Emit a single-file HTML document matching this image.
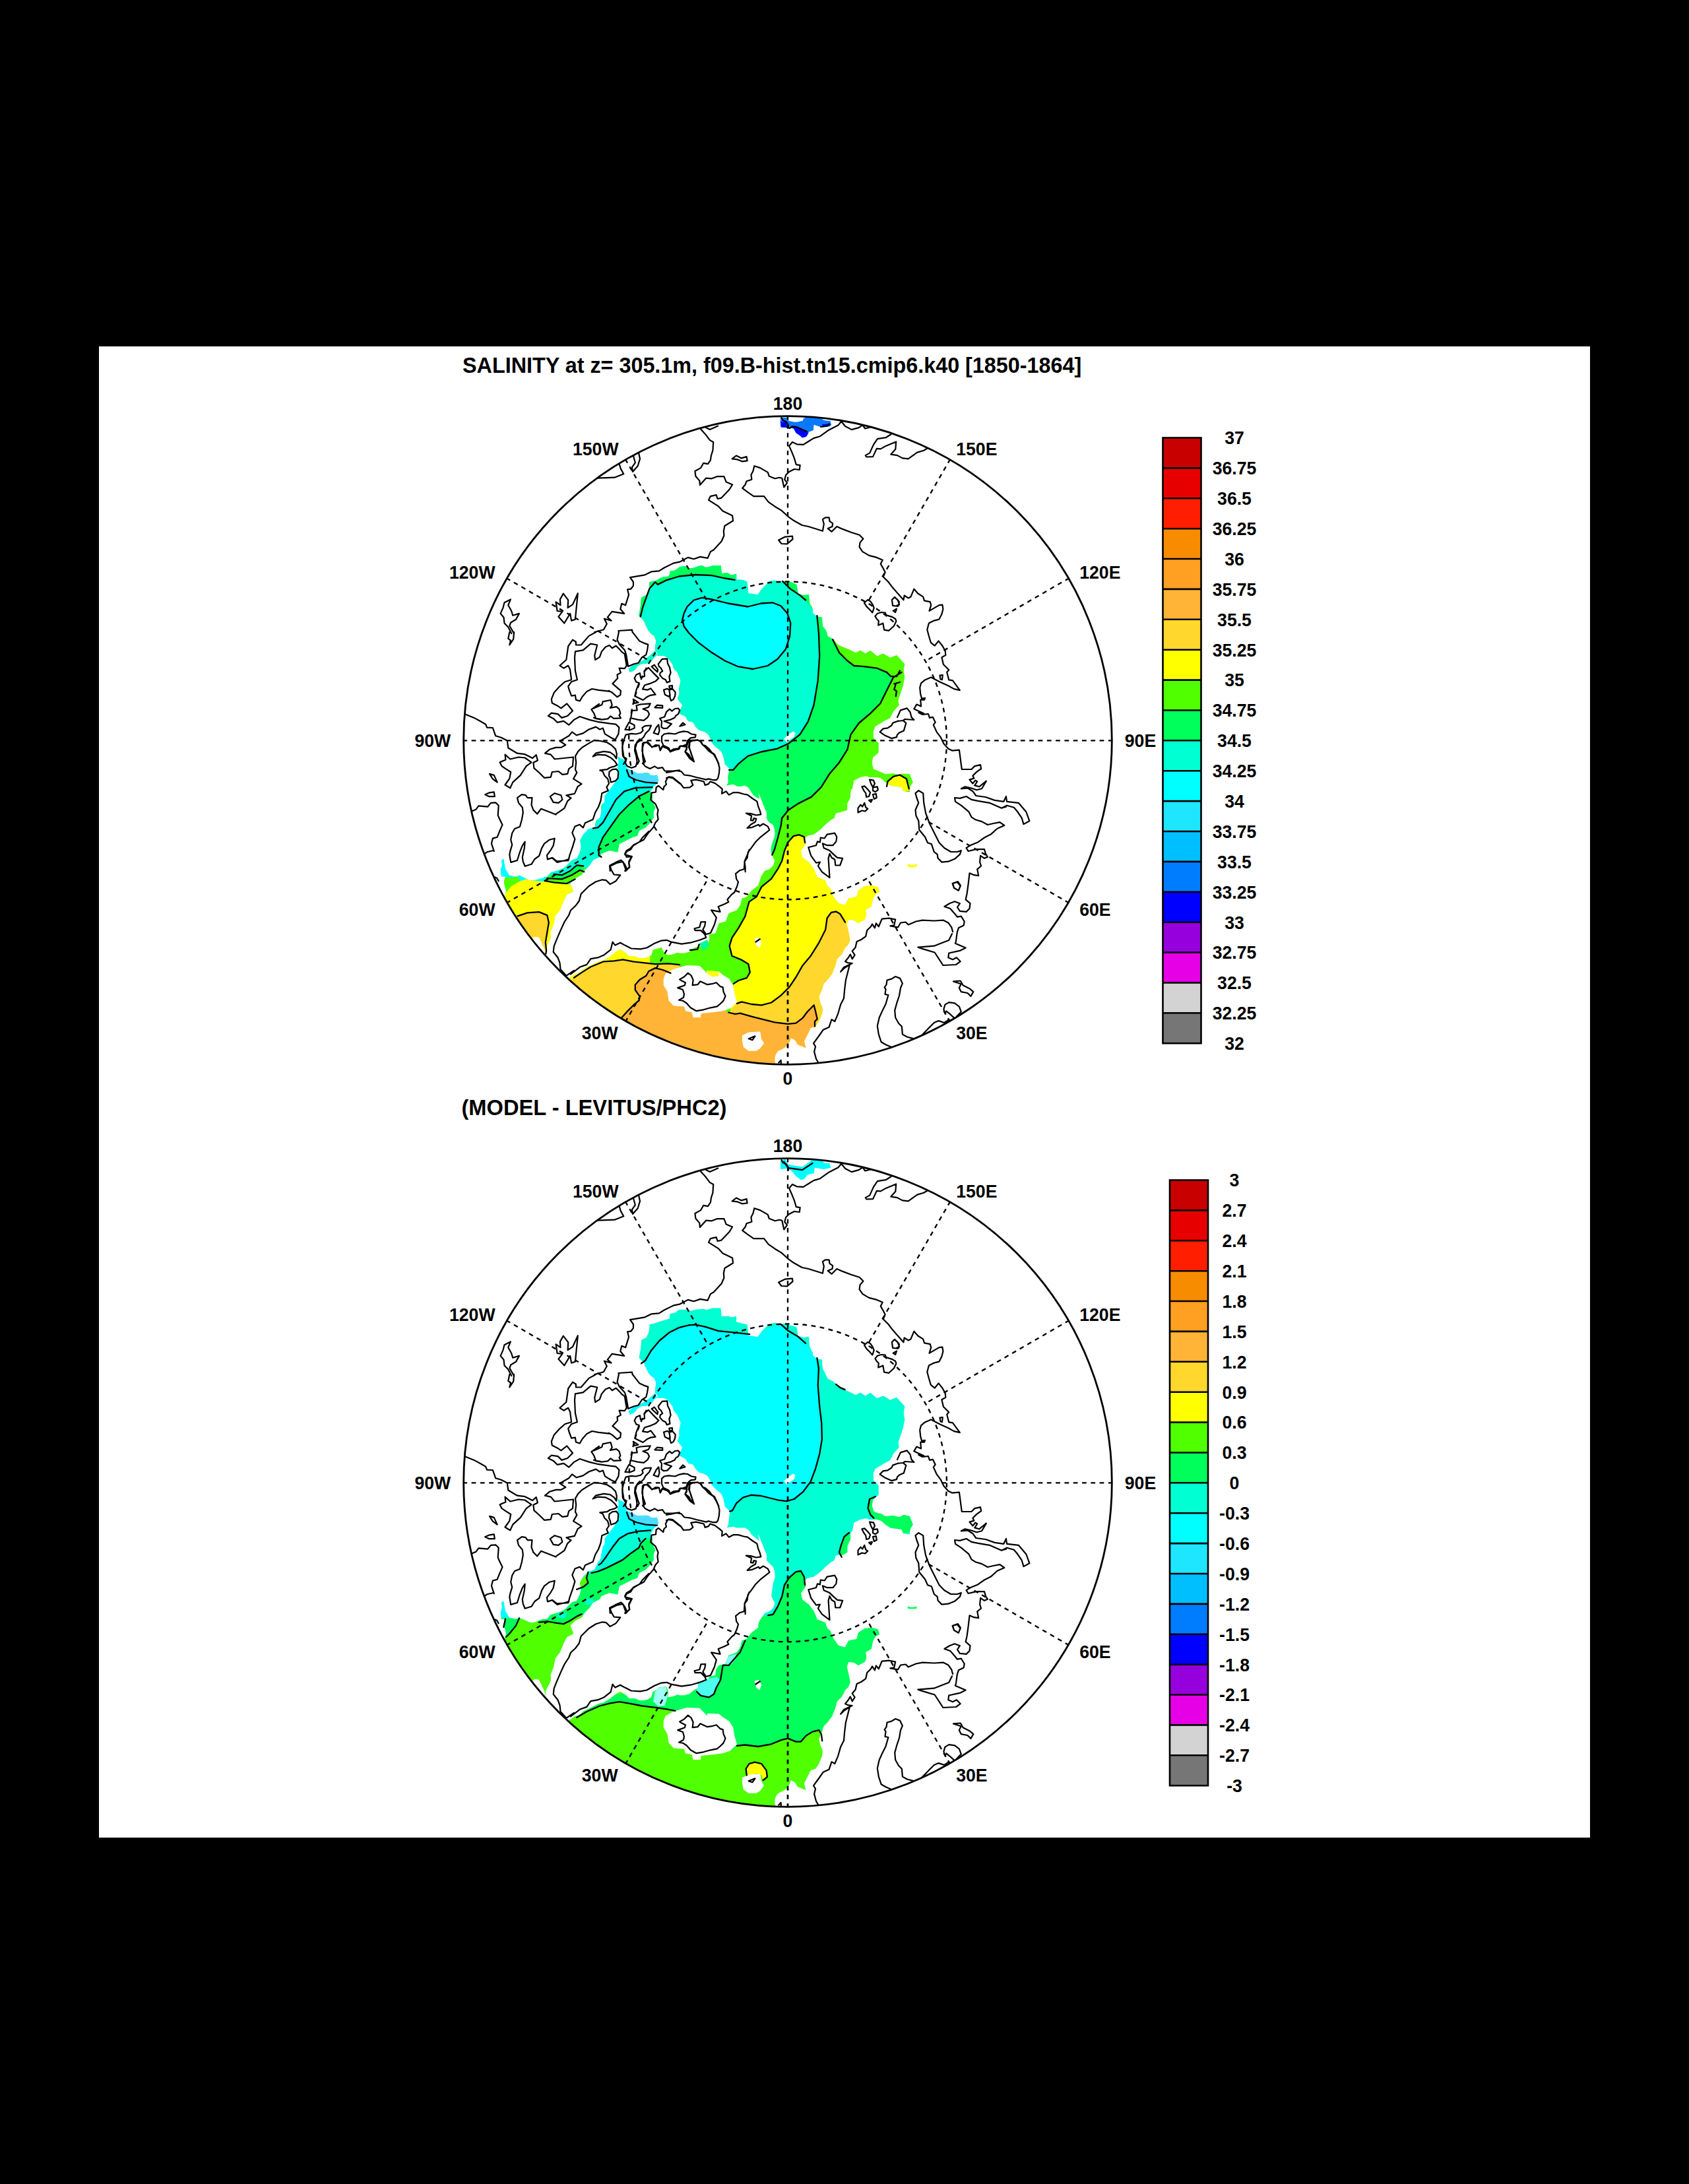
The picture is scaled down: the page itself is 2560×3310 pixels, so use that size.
<!DOCTYPE html>
<html><head><meta charset="utf-8"><title>SALINITY at z= 305.1m</title>
<style>
html,body{margin:0;padding:0;background:#000;}
body{width:2560px;height:3310px;overflow:hidden;}
svg{display:block;}
text{font-family:"Liberation Sans",sans-serif;font-weight:bold;fill:#000;}
.lb{font-size:27.3px;}
.tt{font-size:32.33px;}
.t2{font-size:32.65px;}
.cb{stroke:#000;stroke-width:2.6;}
.gd{fill:none;stroke:#000;stroke-width:2.35;stroke-dasharray:6.8 6.5;}
.gm{stroke-dashoffset:1.7;}
.co{fill:none;stroke:#000;stroke-width:2.2;stroke-linejoin:round;stroke-linecap:round;}
.cn{fill:none;stroke:#000;stroke-width:2.3;stroke-linejoin:round;stroke-linecap:round;}
.cd{fill:none;stroke:#000;stroke-width:2.6;stroke-dasharray:14 8;}
.bd{fill:none;stroke:#000;stroke-width:2.8;}
</style></head><body>
<svg width="2560" height="3310" viewBox="0 0 2560 3310">
<rect x="0" y="0" width="2560" height="3310" fill="#000"/>
<rect x="150" y="525" width="2260" height="2260" fill="#fff"/>
<defs>
<clipPath id="c1"><circle cx="1194" cy="1122" r="491"/></clipPath>
<clipPath id="c2"><circle cx="1194" cy="2247" r="491"/></clipPath>

<g id="coast" class="co">
<path d="M905.2 724.7L931.5 723.7L945.2 718.3L940.7 710.1L938.4 702.2 M959.9 690.5L962.8 701.3L957.9 708.1L958.9 714.9L966.7 706.2L970 695.4L968.1 686.6 M842.6 912.3L849.5 917.2L848.9 908.4L853.8 899.6L861.2 909.3L860.6 921.1L868 916.2L875.8 899.2L871.9 938.7L866.1 940.6L864.1 929.9L855.3 944.5L846.5 934.7L852.4 926.9L844.6 926Z M775.2 960.1L770.3 950.4L764.5 944.5L763.5 935.7L758.6 929.9L762.5 921.1L764.5 913.3L773.9 908.4L770.3 917.2L775.2 926L777.2 932.8L786.9 929.9L782.1 938.7L774.2 943.5L772.3 948.4L779.1 960.1 M1030 851.7L1020.4 853.7L1006.7 860.5L998.9 865.4L987.2 866.4L977.4 871.3L955 875.2L959.9 882L959.9 887.9L956 892.7L951.1 893.3L953 901.5L948.1 917.2L942.3 914.8L940.3 923L946.2 929.9L927.6 926.9L920.8 935.7L926.6 940.6L915.9 937.7L919.8 945.5L914.9 954.3L901.2 958 M1062.2 650.5L1070.1 659.3L1075.9 667.1L1081.2 670L1080.4 682.7L1077.9 690.5L1076.9 697.4L1073 703.2L1066.1 701.9L1062.2 709.1L1053.4 714L1054.4 721.8L1060.3 728.6L1060.9 735.1L1070.1 724.7L1078.8 725.3L1086.7 722.2L1097.4 722.2L1100.7 730.6L1110.1 734.5L1105.2 742.3L1093.5 754.6L1087.6 756L1085.7 750.1L1076.9 752.1L1074 757.9L1088.6 767.1L1095.5 774.5L1110.1 781.4L1111.1 789.2L1098.4 797L1096.8 804.8L1097.4 811.7L1093.5 820.5L1081.8 833.2L1076.9 836.1L1072.6 845.9L1061.3 843.9L1051.5 847.2L1042.7 844.9L1030 851.7 M1070.1 648.1L1075.9 650.9L1088.2 645.6 M1109.7 695.4L1116 690.5L1123.8 694.4L1131.6 692.1L1132.6 698.3L1124.8 699.3L1117.9 696.4Z M1184.4 632.9L1186.3 636.8L1192.2 639.7L1194.5 644L1195.1 648.5 M1275.2 638.7L1270.3 644.6L1256.6 651.4L1243 661.2L1233.2 664.1L1225.4 669L1217.6 673.9L1207.8 673.3L1201 670L1196.1 675.9L1200 684.7L1203.9 694.4L1206.8 704.2L1212.7 705.2L1211.7 712L1203.9 711L1196.1 714.9L1191.2 719.8L1189.2 726.7L1193.1 731.6L1188.3 738.4L1185.3 724.7L1181.4 723.7L1174.6 725.3L1165.8 721.8L1163.8 715.9L1152.1 709.1L1143.3 706.2L1141.4 714L1138.4 719.8L1139.4 726.7L1131.6 729.2L1129.6 734.5L1125.3 739.8L1133.6 746.2L1142.3 752.1L1158 752.1L1164.8 760.9L1174.6 767.7L1184.4 773.6L1195.1 783.3L1201.9 788.2L1215.6 796L1225.4 798L1246.9 804.8L1248.8 794.1L1246.9 787.2L1250.8 784.3L1256.6 784.3L1257.6 790.2L1262.1 793.1L1261.5 798L1254.7 800.9L1260.6 805.8L1268.4 798L1277.2 801.9L1289.9 806.8L1302.6 810.7L1308.4 816.5L1303.5 822.4L1302.6 829.2L1307.4 836.1L1317.2 841.9L1328.9 844.9L1337.7 848.8L1334.8 854.6L1338.7 861.5L1341.6 867.3L1338.7 874.2L1346.5 882L1352.4 889.8L1360 898.6 M1180.1 818.5L1190.2 813.6L1201 812.6L1201.5 817.1L1193.1 824.4L1184.4 824Z M1275.2 638.7L1281.1 646L1290.8 651.1L1301.6 648.1L1307.1 644.6 M1308.4 645.6L1311.3 649.5L1319.2 647.5L1323.1 646.6 M1350.4 658.3L1342.6 663.2L1329.9 665.1L1324 673.9L1318.2 686.6L1311.7 690.1L1313.3 692.5L1323.1 692.1L1328.9 679.8L1334.8 680.4L1342.6 675.9L1358.2 669.4L1357.3 680.8L1350.4 688.6L1360 690.1 M1360 690.1L1367.8 694.4L1376.6 695.4L1390.3 685.6L1400.1 682.7L1405.9 679.2 M903.2 958L892.5 963.9L880.7 977.5L872.9 977.5L872.9 972.7L868 969.7L861.2 979.5L858.3 1000L848.5 1008.8L854.4 1012.7L861.2 1008.8L864.1 1014.7L866.1 1030.3L856.3 1033.2L848.5 1040.1L839.7 1049.8L835.8 1059.6L836.8 1065.5L844.6 1069.4L850.4 1073.3L859.2 1066.4L868 1077.2L860.2 1085L851.4 1087.9L845.6 1082.1L835.8 1080.7L830.9 1085L838.7 1088.9L844.6 1094.8L854.4 1092.8L862.2 1098.7L870 1090.9L878.8 1086L893.4 1090.9L905.2 1093.8L924.7 1096.7L933.5 1097.7L938.4 1102.6L937.4 1112.4L932.5 1121.1L926.6 1118.2L916.9 1112.4L913.9 1103.6L909.1 1105.5L903.2 1101.6L892.5 1105.5L883.7 1111.4L873.9 1114.3L867.1 1109.4L862.2 1115.3L848.5 1123.1L857.3 1129L850.4 1132.9L842.6 1132.9L832.9 1135.8L826 1141.7L834.8 1143.6L840.7 1150.5L869 1147.5L868 1161.2L862.2 1165.1L860.2 1172.9L852.4 1173.9L846.5 1169L836.8 1170L834.8 1177.8L825 1178.8L817.2 1171L809.4 1164.1L808.4 1155.7L814.9 1152.4L812.7 1144L807.1 1149.1L795.7 1143.2L784 1141.7L770.3 1133.5L768.8 1122.5L759.6 1117.8L751.2 1115.3L746.9 1103L738.1 1102.6L736.1 1097.7L729.3 1093.8L718.6 1087.9L703.9 1082.1 M924.7 1047.9L907.1 1045.9L897.3 1044L889.5 1047.9L882.7 1055.7L878.8 1062.5L872.9 1060.6L871.9 1053.7L866.1 1054.7L862.2 1044L861.2 1040.1L866.1 1033.2L874.9 1030.3L871.9 1016.6L871 997.1L871.9 987.3L883.7 985.4L895.4 975.6L905.2 977.5L901.2 993.2L902.2 1000 M908.1 1067L896.4 1075.2L900.3 1081.1L903.2 1088.9L910 1089.9 M757.6 1155.3L766.4 1151.4L765.5 1143.6L773.3 1150.5L786 1147.5L795.7 1148.5L805.5 1155.3L797.7 1161.2L788.9 1174.9L777.2 1185.6L773.3 1194.4L765.5 1189.5L772.3 1179.8L774.2 1170L766.4 1165.1L760.6 1161.2Z M742 1172.9L748.8 1174.9L753.7 1185.6L746.9 1180.7Z M735.2 1204.2L742 1201.3L748.8 1200.3L749.8 1207.1L741 1207.1Z M715.6 1229.2L721.5 1226.7L725.4 1221.4L739.1 1222.7L744 1216.9L751.2 1216.3L755.7 1220.8L754.7 1235.4L756.7 1240.3L761.5 1250.1L757.6 1258.9L753.7 1268.7L746.9 1270.6L744.9 1278.4L748.8 1290.1 M833.8 1207.1L840.7 1202.2L850.4 1205.2L852.4 1212L846.5 1216.9L838.7 1215.9Z M772.3 958L770.3 967.8L773.9 970.7L772.3 977.5L778.2 968.7L779.1 958 M937.9 958L935.5 969.8L939.1 976.9L946.8 985.2L949.1 992.3L952.1 1010.1L960.4 1006.5L967.5 1004.8L972.8 996.5L979.3 992.3L981.1 985.2L982.3 976.9L975.8 974.6L969.3 971.6L961.6 961.6L958.6 958 M902.2 1000L908.9 995.9L911.8 987.6L917.8 980.5L923.7 978.1L927.8 982.3L933.7 978.7L939.1 984.1L942.6 988.2L946.8 991.2L949.7 1008.9L946.8 1013.1L938.5 1012.7L940.9 1019.6L935.5 1022.5L936.1 1027.9L928.4 1036.2L940.9 1046.8L940.3 1053.3L935.5 1056.3L927.2 1049.2L922.5 1046.8L924.6 1047.9 M961.6 1027.9L964.5 1022.5L969.9 1020.2L971 1026.7L977 1024.9L976.4 1017.2L982.9 1011.9L990 1019.6L998.3 1027.9L993.5 1032.6L986.4 1035.6L977 1038.5L974 1044.4L981.7 1045.6L986.4 1043.3L993.5 1052.7L985.3 1053.9L980.5 1056.3L974.6 1061L962.2 1055.1L964.5 1045.6L968.7 1035L964.5 1033.8Z M987.6 1010.1L991.8 1007.7L997.1 1014.8L996.5 1018.4L991.2 1013.7Z M997.7 1006.5L1003.6 998.9L1011.3 998.3L1011.9 1005.4L1014.9 1011.3L1016.6 1019.6L1014.3 1025.5L1015.5 1032.6L1010.7 1034.4L1008.9 1030.2L1004.2 1027.9L1000.1 1023.1L1000.7 1019.6L1004.2 1017.2L1001.8 1012.5L998.9 1010.1Z M1006 1045.6L1011.3 1043.8L1014.3 1045.6L1015.5 1052.7L1013.7 1055.7L1007.8 1052.7Z M1014.3 1045.6L1019.6 1044.4L1023.7 1049.2L1023.1 1055.1L1020.8 1059.8L1017.2 1062.2L1015.5 1057.5L1015.5 1052.7Z M1014.3 1039.7L1019 1039.1L1019 1043.3L1014.9 1043.3Z M959.8 1059.8L967.5 1064.6L961.6 1065.8Z M958 1077L965.7 1076.4L964.5 1069.3L971 1067.5L985.8 1066.3L982.9 1071.7L974.6 1074.6L981.7 1077.6L984.1 1082.3L981.7 1087.1L975.8 1091.8L966.3 1090.6L956.2 1088.3Z M992.4 1072.3L995.9 1068.7L1004.2 1069.3L1004.2 1072.9Z M1000.1 1088.8L1007.2 1086.5L1010.1 1078.8L1014.9 1074.6L1018.4 1077.6L1023.1 1074L1027.9 1073.5L1030.3 1076.4L1027.9 1082.3L1024.3 1084.7L1022.6 1087.7L1016.6 1090.6L1006.6 1093L1017.8 1097.1L1011.3 1103.6L1006 1104.2L1002.4 1101.9L1003 1093Z M1030.3 1100.7L1035 1095.4L1038.5 1098.3Z M900 1073.5L912.4 1068.1L913.6 1063.4L925.5 1061L927.8 1068.7L924.9 1072.9L934.3 1071.1L938.5 1074.6L940.3 1081.1L938.5 1084.1L940.9 1088.3L930.2 1088.8L925.5 1085.3L921.3 1089.4L911.8 1090.6L902.4 1088.8L900 1087.7 M947.4 1106L953.3 1094.8L961.6 1098.9L961.6 1103.6L955.7 1106Z M945 1158L948.5 1152.2L943.8 1145.1L943.2 1132.1L945.6 1121.4L948.5 1113.7L956.8 1111.9L963.9 1112.5L971 1110.8L974.6 1107.2L973.4 1103.1L977.6 1100.1L987 1099.5L984.1 1106L978.2 1111.9L975.8 1116.7L969.9 1122.6L965.1 1126.1L962.8 1134.4L964.5 1140.4L966.3 1147.5L968.7 1153.4L966.3 1158 M990.6 1110.8L994.7 1102.5L998.3 1098.3L999.5 1107.2L997.7 1113.1Z M1003 1116.1L1006.6 1112.5L1013.7 1111.3L1023.1 1112.5L1030.3 1109.6L1036.2 1108.4L1042.1 1109L1048 1112.5L1054.5 1113.7L1053.9 1117.3L1046.8 1118.4L1042.1 1122.6L1040.3 1128.5L1035 1130.3L1030.3 1130.9L1027.9 1135L1016 1139.2L1013.7 1133.8L1005.4 1129.7L1003 1123.8Z M975.8 1158L974 1145.1L974 1133.3L975.8 1126.1L981.7 1124.4L985.3 1128.5L988.2 1132.7L993.5 1129.1L998.9 1129.7L1000.7 1137.4L1004.2 1130.9L1013.7 1134.4 M1040.3 1130.3L1040.9 1135.6L1038.5 1139.2L1043.9 1143.3L1046.8 1148.6L1051.6 1153.4L1049.2 1146.3L1046.8 1139.2L1043.9 1132.1L1045.1 1125L1050.4 1122L1057.5 1121.4L1061.6 1123.8L1064.6 1128.5L1069.3 1130.3L1075.3 1135.6L1078.8 1140.4L1082.9 1143.3L1085.9 1149.8L1089.5 1158 M841.8 1234.3L855.5 1224.8L860.2 1214.1L865.5 1209.4L858.4 1205.3L870.9 1202.9L875.6 1192.2L881.5 1188.1L869.1 1180.4L874.4 1170.9L872 1166.2L873.2 1155.5L872 1146.1L876.2 1138.9L882.1 1133L891.6 1127.1L901 1121.8L910.5 1123L920 1125.3L927.1 1129.5L933 1135.4L934.8 1142.5L934.2 1149.6L930.7 1144.3L924.7 1140.1L915.3 1138.9L903.4 1141.3L898.7 1146.6L905.8 1143.7L917.6 1144.3L925.9 1148.4L931.8 1153.7L935.4 1159.1L931.8 1161.4L924.7 1163.2L920 1166.2L909.3 1167.4L913.5 1169.1L916.4 1175.7L921.2 1180.4L923 1187.5L919.4 1192.8L921.8 1198.2L912.3 1202.3L910.5 1213.5L907 1223L902.2 1231.3L898.7 1242L886.8 1247.3L883.9 1254.4L878.5 1249.7L871.4 1252.6L867.3 1262.1L871.4 1271.6L867.9 1283.4L863.7 1295.3L861.4 1304.1L844.2 1305.3L837.1 1300L830 1302.4 M923.5 1169.7L928.3 1166.2L934.2 1165.6L937.2 1169.7L936.6 1179.2L933 1183.4L925.9 1185.7L924.7 1179.2L923 1175.7Z M943.1 1120L943.7 1135.4L945.5 1147.2L949.6 1149.6L947.8 1156.7L950.8 1161.4L957.3 1163.8L963.8 1161.4L965.6 1154.3L964.4 1146.1L962 1137.8L962.6 1129.5L966.2 1123.6L969.7 1120 M1030 1134.2L1020.6 1135.4L1015.9 1138.4L1011.2 1134.2L1003.5 1131.2L1000.5 1136.6L998.7 1129.5L993.4 1131.2L987.5 1131.8L980.4 1125.3L975.6 1125.3L973.9 1127.1L973.3 1137.8L975.1 1145.5L978 1154.3L973.9 1156.7L978 1161.4L985.1 1165L992.2 1161.4L997 1164.4L1004.1 1163.2L1007.6 1168.5L1019.5 1168.5L1030 1167.4 M1030 1187.5L1019.5 1179.2L1012.4 1178L1008.8 1184.5L1010 1188.7L1006.4 1192.2L1005.3 1197L998.1 1191L994.6 1193.4L994 1200.5L987.5 1201.7L986.3 1212.4L993.4 1218.3L997.6 1227.8L996.4 1233.7L997.6 1242L993.4 1246.7L990.4 1253.8L981.6 1263.9L975.6 1272.8L960.3 1280.4L955.5 1285.8L949.6 1289.3L947.2 1293.5L949.6 1298.8L957.3 1298.2L953.1 1305.9L954.3 1314.2L948.4 1320 M924.7 1320L924.1 1311.8L933 1307.1L941.3 1303.5L946.6 1309.5L949.6 1315.4L947.2 1320 M842.6 1234.5L820.2 1225.7L814.3 1233.5L808.4 1227.6L805.5 1219.8L806.5 1209.1L799.6 1209.1L796.7 1205.2L790.9 1204.2L784 1209.1L786 1216.9L791.8 1223.7L792.8 1231.5L790.9 1242.3L787.9 1253L780.1 1256L776.2 1262.8L774.2 1272.6L776.2 1280.4L773.3 1290.1 M1044.3 1122.4L1050.3 1121.8L1057.4 1121.8L1062.7 1124.1L1065.1 1128.9L1069.2 1132.4L1074.5 1138.4L1081.6 1143.1L1085.8 1150.2L1088.7 1156.7L1090.5 1163.8L1089.9 1172.1L1088.2 1179.2L1085.8 1182.2L1081 1182.2L1073.9 1180.4L1070.4 1181.6L1055 1178L1046.7 1175.7L1037.2 1174.5L1032.5 1169.1L1025.4 1168L1017.1 1169.7L1010 1170.9 M1044.3 1122.4L1042 1127.1L1040.8 1131.8L1031.3 1130.7L1028.9 1135.4L1021.8 1136.6L1015.9 1139.5L1013.6 1135.4L1010 1133 M1041.4 1132.4L1038.4 1139.5L1045.5 1149.6L1052 1154.3L1047.9 1143.7L1044.9 1133L1045.5 1125.3 M1010 1179.2L1013.6 1177.4L1019.5 1178L1025.4 1182.8L1031.3 1187.5L1036.1 1194L1045.5 1193.4L1050.3 1189.9L1047.3 1182.8L1055 1181.6L1066.8 1184.5L1068.6 1189.9L1073.9 1188.1L1076.3 1184.5L1083.4 1186.9L1090.5 1192.2L1094.7 1195.8L1094.1 1202.9L1100.6 1199.3L1104.7 1204.7L1111.8 1201.1L1118.9 1201.1L1127.2 1203.5L1133.1 1204.7L1140.3 1210L1147.4 1214.7L1149.1 1221.8L1151.5 1227.8L1153.3 1234.3L1146.2 1235.5L1137.9 1233.1L1130.8 1232.5L1139.1 1236.6L1137.9 1243.1L1141.4 1243.7L1142.6 1240.2L1146.2 1240.8L1145 1245.5L1137.9 1249.7L1132.6 1255L1140.3 1253.8L1149.7 1249.7L1151.5 1252L1156.8 1248.5L1163.9 1252.6L1166.3 1258L1160.4 1262.7L1152.1 1269.2L1145 1276.3L1139.1 1284.6L1133.7 1291.7L1132.6 1300L1128.4 1305.9L1129.6 1314.2L1129.6 1321.3 M1360 898.6L1369.4 909.3L1370.7 902.5L1376.6 906.4L1380.5 904.4L1385.4 892.7L1391.3 899.5L1399.1 904.4L1401 910.3L1409.8 912.2L1411.2 917.1L1408.5 925.9L1423.5 917.1L1428.4 916.7L1429.4 923L1427.4 930.8L1423.5 938.6L1415.7 940.6L1407.9 944.5L1405.3 954.2L1407.9 964L1410.8 973.8L1416.7 978.7L1422.5 971.4L1428.4 978.7L1432.7 986.5L1433.3 992.9L1427.4 996.3L1429.9 1007L1438.2 1015.2L1435.2 1018.7L1438.2 1030.4L1444 1031.4L1454.8 1046.1L1446 1044.1L1437.2 1039.2L1424.5 1033.4L1411.2 1026.5L1402 1030.4L1396.1 1035.3L1394.2 1042.2L1395.2 1051.9L1397.1 1058.8L1402 1057.8L1401 1060.7L1395.2 1060.7L1396.1 1070.5L1389.3 1067.6L1385.4 1074.4L1400.1 1081.2 M1424.5 1023.6L1428.8 1023L1428 1030.1L1425.5 1029.5Z M1360 908.3L1362.9 912.2L1362 918.1L1360 919.1 M1360 1087.1L1364.9 1076.4L1374.7 1073.4L1379.5 1079.3L1381.5 1087.1L1385.4 1091L1371.7 1090L1368.8 1092L1360 1093 M1368.8 1092L1373.3 1095.9L1369.8 1107.6L1362.9 1110.6L1360 1113.5 M1309.9 913.7L1315.2 909L1319.3 911.4L1322.9 916.7L1324.7 921.4L1322.3 928.5L1318.1 923.8L1313.4 919.1Z M1326.4 933.9L1330 929.7L1335.9 928L1341.8 928.5L1343 932.1L1352.5 935.1L1357.2 938L1358.4 941.6L1354.9 948.7L1347.2 955.8L1340.1 954.6L1338.3 944.5L1335.9 945.7L1331.2 947.5L1331.8 941L1328.8 938Z M1351.9 909L1356 904.9L1360.8 909.6L1363.1 916.1L1357.8 918.5L1353.1 917.9Z M1353.7 925.6L1359 922.6L1357.2 928Z M1359.9 1113.4L1359.1 1117.1L1351.3 1119.1L1340.6 1114.2L1333.7 1109.3L1338.6 1104.4L1345.4 1103.4L1351.3 1099.5L1353.3 1095.6L1361.1 1092.7 M1392.3 1080L1398.2 1082.9L1407 1082L1408.9 1087.8L1413.8 1086.8L1417.7 1094.7L1414.8 1098.6L1419.7 1109.3L1425.6 1117.1L1430.4 1126.9L1437.3 1134.7L1443.1 1137.6L1453.9 1136.7L1457.8 1166L1472.4 1166L1477.3 1161.1L1486.1 1159.1L1487.1 1165L1480.3 1169.9L1474.4 1175.7L1476.3 1179.6L1469.5 1181.6L1474.4 1187.5L1478.3 1182.6L1481.2 1184.5L1477.3 1190.4L1484.2 1192.3L1494.9 1183.6L1488.1 1195.3L1480.3 1197.2L1471.5 1194.3L1462.7 1192.3L1456.8 1195.3L1466.6 1194.3L1474.4 1199.2L1479.3 1206L1493.9 1208L1507.6 1212.9L1521.3 1214.8L1525 1207 M1525 1222.6L1517.4 1224.6L1499.8 1216.8L1482.2 1213.8L1472.4 1211.9L1464.6 1207L1454.9 1209.9L1447 1209L1448 1214.8L1456.8 1220.7L1468.5 1230.4L1472.4 1238.3L1478.3 1242.2L1488.1 1245.1L1496.9 1250L1505.7 1248L1515.4 1246.1L1522.3 1251L1511.5 1255.8L1501.7 1264.6L1492 1269.5L1482.2 1276.4L1470.5 1281.2L1464.6 1285.2L1467.6 1290L1479.3 1287.1L1492 1287.1L1493.9 1293.9L1496.9 1298.8L1492 1300.8L1486.1 1296.9L1485.1 1306.6L1487.1 1312.5L1481.2 1317.4L1483.2 1327.2L1476.3 1326.2L1469.5 1323.3L1467.6 1339.9L1465.6 1354.5L1463.7 1363.3L1470.5 1369.2L1469.5 1377L1464.6 1381.9L1454.9 1380.9L1451 1375L1454.9 1369.2L1447 1366.2L1439.2 1369.2L1431.4 1374L1440.2 1377L1447 1384.8L1451 1389.7L1456.8 1388.7L1461.7 1396.5L1460.7 1402.4L1452.9 1406.3L1451 1412.1 M1387.5 1202.1L1392.3 1198.2L1399.2 1202.1L1400.2 1216.8L1403.1 1232.4L1408.9 1248L1416.8 1263.7L1423.6 1277.3L1431.4 1285.2L1441.2 1291L1451 1291L1456.8 1289.1L1454.9 1294.9L1447 1301.8L1437.3 1305.7L1427.5 1306.6L1421.6 1300.8L1420.7 1294.9L1415.8 1291L1411.9 1279.3L1406 1277.3L1402.1 1268.5L1393.3 1257.8L1392.3 1244.1L1388.4 1236.3L1387.5 1227.5L1392.3 1216.8L1389.4 1209Z M1306.4 1192.3L1310.3 1191.4L1315.2 1196.3L1319.1 1201.1L1317.1 1207L1313.2 1208L1312.2 1202.1L1309.3 1198.2Z M1318.1 1181.6L1324 1182.6L1325.9 1187.5L1323 1193.3L1320 1187.5Z M1323 1193.3L1329.8 1192.3L1330.8 1197.2L1326.9 1200.2L1323 1198.2Z M1323 1204.1L1327.9 1203.1L1328.8 1209L1324.9 1210.9Z M1317.1 1212.9L1322 1211.9L1320 1215.8Z M1300.5 1224.6L1304.4 1219.7L1307.3 1222.6L1310.3 1216.8L1312.2 1223.6L1315.2 1225.6L1311.3 1229.5L1306.4 1228.5L1300.5 1231.4Z M1225.3 1284.2L1237 1281.2L1239 1275.4L1242.9 1276.4L1243.8 1269.5L1249.7 1270.5L1253.6 1264.6L1265.3 1262.7L1268.3 1268.5L1267.3 1275.4L1262.4 1281.2L1253.6 1281.2L1246.8 1278.3L1248.7 1285.2L1257.5 1289.1L1263.4 1294.9L1269.2 1299.8L1277.1 1300.8L1273.2 1311.5L1266.3 1311.5L1265.3 1302.7L1260.5 1299.8L1257.5 1293.9L1255.6 1300.8L1257.5 1330.1L1245.8 1321.3L1239.9 1312.5L1242.9 1306.6L1237 1307.6L1229.2 1296.9Z M1444.1 1338.9L1451.9 1336L1455.8 1341.8L1452.9 1349.6L1446.1 1345.7Z M1314.2 1410L1320 1404.3L1322 1400.4L1325.9 1406.3L1327.9 1399.4L1331.8 1404.3L1334.7 1397.5L1336.7 1392.6L1347.4 1391.6L1357.2 1393.6L1355.2 1402.4L1349.4 1403.4L1361.1 1405.3L1365 1398.5L1372.8 1397.5L1376.7 1401.4L1388.4 1396.5L1398.2 1394.6L1415.8 1395.5L1429.5 1394.6L1437.3 1398.5L1442.2 1405.3L1444.1 1412.1 M1524.9 1207.1L1526.1 1214.9L1543.7 1216.8L1550.5 1224.7L1555.4 1230.5L1560.3 1244.2L1551.5 1249.1L1548.5 1239.3L1541.7 1229.5L1536.8 1223.7L1526.1 1220.7L1518.3 1224.7 M1443 1415.2L1438.2 1424.9L1428.4 1428.8L1415.7 1433.7L1391.3 1435.7L1397.1 1437.6L1416.7 1443.5L1422.5 1452.3L1429.4 1463L1448.9 1462L1455.7 1457.2L1449.9 1451.3L1444 1454.2L1437.2 1451.3L1438.2 1444.5L1455.7 1440.6L1463.6 1436.6L1447.9 1429.8L1448.9 1426.9L1450.9 1412 M1443.6 1339L1450.9 1337L1455.7 1342.9L1452.8 1349.7L1446 1345.8Z M1445 1487.4L1455.7 1486.5L1459.6 1493.3L1469.4 1498.2L1475.3 1503.1L1471.4 1509.9L1466.5 1505L1456.7 1503.1L1453.8 1497.2L1456.7 1491.3Z M1314.2 1410.1L1312.2 1419.1L1305.4 1424L1298.6 1426.9L1296.6 1435.7L1291.7 1441.5L1295.6 1447.4L1291.7 1453.3L1288.8 1446.4L1285.9 1451.3L1281 1457.2L1284.9 1459.1L1291.7 1460.1L1279 1466L1274.1 1472.8L1279 1467.9L1287.8 1462.1L1284.9 1473.8L1281.9 1485.5L1280 1501.1L1279 1512.9L1274.1 1522.6L1270.2 1536.3L1265.3 1548L1260.5 1545.1L1256.5 1556.8L1247.8 1560.7L1240.9 1570.5L1233.1 1581.2L1236 1586.1L1234.1 1593.9L1237 1604.7L1240.9 1611.5 M1352.3 1587.5L1342.5 1583.2L1335.7 1579.3L1331.8 1567.6L1329.8 1554.9L1332.7 1542.2L1337.6 1531.4L1342.5 1521.7L1346.4 1508L1341.5 1507L1342.5 1499.2L1340.6 1496.3L1343.5 1492.3L1344.5 1485.5L1351.3 1483.6L1357.2 1480L1364 1482.6L1367.9 1490.4L1365 1497.2L1363 1509L1359.1 1520.7L1356.2 1531.4L1357.2 1542.2L1362.1 1551L1366.9 1555.8L1367.9 1567.6L1374.8 1571.5L1385.5 1574.4 M1397.2 1569.1L1408 1557.8L1415.8 1550L1422.6 1547.1L1431.4 1550L1438.3 1545.1L1440.2 1547.6 M1450 1540.6L1456.8 1533.4L1453.9 1525.6L1447 1520.3L1438.3 1519.1L1432.4 1522.6L1430.4 1529.5L1432.4 1536.3L1434.3 1532.4L1439.2 1536.3L1446.1 1542.6 M1135.6 1288L1132.7 1295.8L1128.8 1304.6L1127.8 1317.3L1121 1319.3L1115.1 1324.1L1116.1 1332L1119 1336.8L1117 1343.7L1113.1 1352.5L1109.2 1355.4L1102.4 1363.2L1104.3 1367.1L1098.5 1370.1L1088.7 1374L1091.6 1381.8L1078 1379.4L1085.8 1390.6L1082.9 1401.3L1077 1414L1070.2 1416L1065.3 1409.1L1068.2 1403.3L1069.2 1397L1062.3 1397.4L1060.4 1405.2L1052.6 1407.2L1053.5 1410.1L1062.3 1410.1L1068.2 1416L1070.2 1420.9L1060.4 1424.8L1046.7 1428.7L1033 1430.6L1017.4 1427.7L1010.6 1424.8L1001.8 1425.7L992 1429.7L980.3 1436.5L970.5 1438.4L956.8 1437.5L947.1 1432.6L940.2 1428.7L932.4 1432.6L928.5 1427.7L925.6 1439.4L915.8 1447.2L907 1451.1L895.3 1453.1L889.4 1461.9L878.7 1465.8L865 1476.5 M1030.1 1484.4L1036.9 1480.5L1042.8 1474.6L1047.7 1478.5L1050.6 1485.3L1049.6 1493.2L1057.5 1492.2L1061.4 1487.3L1072.1 1492.2L1078.9 1491.2L1085.8 1489.2L1091.6 1495.1L1095.6 1496.1L1096.5 1502.9L1099.5 1509.8L1096.5 1516.6L1091.6 1521.5L1086.8 1525.4L1077 1527.3L1066.2 1530.3L1055.5 1532.2L1046.7 1527.3L1040.8 1520.5L1035 1516.6L1029.1 1515.6L1036 1511.7L1036.9 1506.8L1035 1500L1027.2 1497.1L1037.9 1493.2L1038.9 1489.2L1033 1486.3Z M1134.6 1574.2L1144.4 1570.3L1140.5 1576.2Z M864.9 1379.8L862.2 1387L855.3 1397.7L849.5 1410.4L843.6 1424.1L839.7 1433.9L838.7 1442.7L845.6 1451.5L848.5 1459.3L849.5 1469.1L858.3 1478.8L870 1471 M983.3 1260L973.5 1269.8L969.6 1275.6L959.9 1281.5L956 1287.4L950.1 1290.3L947.2 1295.2L957.9 1298.1L953 1307.9L954 1313.7L949.1 1319.6L944.2 1305.9L934.5 1307.9L924.7 1312.8L926.6 1318.6L930.6 1325.5L940.3 1326.4L933.5 1335.2L924.7 1340.1L918.8 1334.2L913 1333.3L903.2 1336.2L892.5 1343L880.7 1354.8L877.8 1365.5L871.9 1373.3L864.9 1379.8 M773.3 1290.1L772.3 1295.2L774.2 1306.9L784 1304L787.9 1291.3L791.8 1281.5L795.7 1275.6L794.8 1285.4L791.8 1299.1L792.8 1305.9L795.7 1312.8L805.5 1309.8L810.4 1302L817.2 1297.1L821.1 1285.4L825 1278.6L832.9 1272.7L840.7 1270.7L838.7 1281.5L834.8 1288.3L829 1296.1L829.9 1302.4L836.8 1300.1L844.6 1306.9L856.3 1304L862.2 1302 M746.9 1289.3L738.1 1291.3L734.2 1294.2 M748.5 1328.8L753.1 1330.7L755.7 1335.2 M937.9 958L937.4 956L958 954.7L958.6 958 M1180.3 1610.5L1183.6 1607L1184 1613.5"/>
</g>
</defs>
<text x="701" y="565" class="tt">SALINITY at z= 305.1m, f09.B-hist.tn15.cmip6.k40 [1850-1864]</text>
<text x="699.5" y="1690" class="tt t2">(MODEL - LEVITUS/PHC2)</text>
<g clip-path="url(#c1)">
<clipPath id="mt"><path d="M968.3 933.1L970.8 919.5L972 905.8L979.5 902.1L982.9 895L984.1 890L984.4 882.2L994.4 879.7L1001.4 875.8L1006.3 874.3L1014.3 873.5L1015.5 866L1021.3 865.1L1024.7 863.6L1029.2 859.8L1035.4 858.2L1039.6 858.2L1043.7 861.4L1047.9 861.4L1054.1 859.8L1060.4 857.6L1064.8 857.2L1069.5 859.9L1073.8 859.5L1080.2 857.3L1092.6 857.3L1093.9 869.7L1099.4 868.1L1103.2 868.1L1106.9 871.3L1110.6 871.3L1116.2 869.7L1116.2 878.4L1124.1 878.7L1129.1 880L1136.1 883.4L1143.3 886.4L1148.3 887.3L1156 887.1L1161.9 882.9L1166.3 881L1173.4 879.7L1180.9 881.3L1185.9 881.3L1193.3 879.7L1187.5 880.9L1195.3 881.2L1200.3 882.5L1207.4 885.9L1209.8 899.6L1215.8 901.6L1219.8 901.9L1226 900.8L1227.2 914.5L1230.6 919.6L1231.9 923.3L1232.2 929.4L1236.7 933.2L1240.1 934.8L1245.9 935.6L1247.1 949.3L1251.4 954.2L1253.2 957.9L1254.6 964.2L1264.5 969.2L1267.1 974.1L1269.6 976.5L1274.5 979.1L1286.9 984.1L1296.9 989.1L1304.3 985.4L1311.8 990.3L1319.3 985.4L1329.2 994.1L1339.1 990.3L1349.1 996.6L1359 992.8L1364.9 996.9L1368 1000.3L1371.5 1006.5L1369.9 1014L1369.9 1018.9L1371.5 1026.4L1369 1038.8L1368.6 1044.9L1367.4 1048.7L1364 1053.7L1362 1059.2L1361.6 1062.9L1362.8 1068.7L1354.1 1078.6L1349.1 1088.6L1339.1 1093.5L1335.3 1097.7L1332.2 1099.6L1326.7 1101L1324.2 1107.3L1323.6 1111.6L1324.2 1118.4L1331.7 1125.9L1333.3 1131.5L1333.3 1135.2L1331.7 1140.8L1323 1148.2L1321.9 1154.9L1322.2 1159.2L1324.2 1165.6L1331.4 1167L1335.7 1168.8L1341.6 1173.1L1354.1 1171.9L1360.2 1173.8L1364.3 1174L1368.7 1171L1372.8 1171.2L1378.9 1173.1L1383.9 1185.5L1380.5 1190.6L1379.3 1194.4L1378.9 1200.5L1369 1199.2L1366.5 1193L1359.7 1193.7L1355.4 1193L1349.1 1190.5L1341.6 1185.5L1337.8 1181.4L1334.7 1179.5L1329.2 1178.1L1323 1179.7L1318.8 1179.7L1314.7 1176.5L1310.6 1176.5L1304.3 1178.1L1294.4 1183.1L1294.7 1189.6L1293.9 1193.7L1289.9 1197.2L1289.1 1201.4L1289.4 1207.9L1284.4 1217.9L1284.4 1227.8L1278.4 1231.2L1274 1232.5L1267 1232.8L1264.5 1240L1258.6 1243.5L1251.2 1249.7L1243.7 1257.2L1233.7 1264.7L1223.8 1267.1L1218.8 1272.1L1221.3 1279.6L1213.9 1289.5L1216.3 1299.5L1226.3 1306.9L1233.7 1316.9L1238.7 1329.3L1251.2 1334.3L1252.6 1339.8L1254.4 1342.9L1258.6 1346.7L1263.6 1359.1L1271 1369.1L1281 1371.6L1286 1361.6L1298.4 1359.1L1300.9 1349.2L1310.8 1343L1318.4 1341.9L1323.4 1342.2L1330.7 1344.2L1333.2 1351.7L1328.4 1354.3L1325.9 1356.8L1323.3 1361.6L1320.8 1374.1L1312.1 1379L1313.2 1384.8L1312.9 1388.5L1310.8 1394L1300.9 1398.9L1295.8 1395.6L1292.1 1394.3L1286 1394L1283.5 1401.4L1286 1411.4L1288.5 1423.8L1287 1429.3L1285.2 1432.4L1281 1436.2L1276 1446.2L1268.6 1453.6L1266.1 1463.6L1261.1 1476L1253.6 1486L1249.5 1489.8L1247.6 1492.9L1246.2 1498.4L1241.2 1510.8L1243.7 1520.8L1246.2 1526.1L1246.8 1529.8L1246.2 1535.7L1241.2 1548.1L1236.2 1555.6L1228.8 1558.1L1223.8 1568L1218.8 1578L1221.3 1587.9L1208.9 1582.9L1206.3 1578.1L1203.8 1575.6L1198.9 1573L1196.5 1579.5L1194 1583.2L1189 1587.9L1179 1592.9L1175.7 1598L1174.4 1601.7L1174.1 1607.8L1175.7 1613.4L1175.7 1617.1L1174.1 1622.7L1168.6 1622.7L1165.2 1623.7L1162.7 1627.8L1159.4 1628.8L1155.1 1626.8L1151.7 1627.8L1149.3 1631.9L1145.9 1632.9L1141.6 1630.8L1138.3 1631.8L1135.8 1635.9L1132.4 1636.9L1128.2 1634.9L1124.8 1635.9L1122.3 1640L1119 1641L1114.7 1638.9L1111.3 1639.9L1108.9 1644L1105.5 1645L1100 1645L950 1605L946.8 1600.4L944.1 1598.2L939.3 1598.5L936.5 1596.2L935.7 1591.5L932.9 1589.3L928.2 1589.6L925.4 1587.4L924.6 1582.6L921.8 1580.4L917.1 1580.7L914.3 1578.5L913.5 1573.8L910.7 1571.5L905.9 1571.8L903.2 1569.6L902.4 1564.9L899.6 1562.6L894.8 1562.9L892.1 1560.7L891.3 1556L888.5 1553.8L883.7 1554L880.9 1551.8L880.2 1547.1L877.4 1544.9L872.6 1545.1L869.8 1542.9L869.1 1538.2L866.3 1536L861.5 1536.2L858.7 1534L857.9 1529.3L855.2 1527.1L850 1525L845.5 1521.7L843.4 1518.8L843.8 1514L841.6 1511.2L836.9 1510.2L834.8 1507.4L835.2 1502.6L833.1 1499.8L828.4 1498.8L826.2 1496L826.6 1491.2L824.5 1488.3L819.8 1487.4L817.6 1484.5L818.1 1479.8L815.9 1476.9L811.2 1476L809.1 1473.1L809.5 1468.3L807.4 1465.5L802.6 1464.5L800.5 1461.7L800.9 1456.9L798.8 1454L794.1 1453.1L791.9 1450.2L790 1445L794.2 1449L797.5 1450.7L802.2 1449.6L805.5 1451.3L807.3 1455.9L810.6 1457.6L815.3 1456.4L818.6 1458.2L820.4 1462.7L823.7 1464.4L828.5 1463.3L831.7 1465L833.5 1469.6L836.8 1471.3L841.6 1470.2L844.9 1471.9L846.7 1476.4L849.9 1478.1L854.7 1477L858 1478.7L862.2 1482.7L870 1476.9L875.9 1475.3L879.3 1473.4L883.7 1469.1L895.4 1463.2L907.1 1457.3L914.9 1455.4L924.7 1449.5L934.5 1441.7L940.3 1438.8L948.1 1443.7L954 1449.5L960.2 1449L964.1 1449.8L969.6 1452.5L976.6 1452.2L981 1450.9L987.2 1447.6L989.2 1439.8L993.9 1436.7L997.3 1435.8L1002.8 1435.8L1006.7 1443.7L1012.6 1447.6L1022.4 1445.6L1030 1441.7L1024.9 1443.7L1032.4 1444.8L1037.4 1444.5L1044.8 1442.5L1052.2 1436.2L1059.3 1432.8L1064.3 1431.6L1072.1 1431.3L1074.6 1425.9L1075.2 1422.2L1074.6 1416.3L1084.5 1413.9L1084.9 1407.8L1086.1 1404L1089.5 1398.9L1099.5 1396.4L1104.4 1384L1116.9 1379L1121.1 1373.1L1123 1368.8L1124.3 1361.6L1131.8 1359.1L1139.3 1349.2L1149.2 1341.7L1149.5 1335.6L1150.8 1331.9L1154.2 1326.8L1159.1 1319.4L1164.6 1317.9L1167.7 1316.1L1171.6 1311.9L1174.1 1304.4L1169.1 1294.5L1168.4 1286.8L1169.1 1281.9L1171.6 1274.6L1174.1 1268.3L1174.7 1263.9L1174.1 1257.2L1171.6 1249.7L1166.7 1247.1L1164.2 1244.6L1161.6 1239.8L1162.3 1233.9L1161.7 1230.2L1159.1 1224.9L1154.2 1212.4L1149.2 1200L1151 1210.4L1145.4 1207.9L1142.3 1205.4L1138.6 1200.5L1136 1195.6L1133.5 1193.1L1128.7 1190.5L1121.8 1192.1L1117.3 1192.1L1112.7 1188.9L1108.2 1188.9L1101.3 1190.5L1103.8 1185.5L1103.1 1177.9L1103.8 1172.9L1106.3 1165.6L1098.8 1158.2L1096.3 1145.8L1093.9 1140.1L1091.4 1137L1086.4 1133.3L1081.3 1128.6L1078.8 1124.9L1076.4 1118.4L1073.8 1113.5L1071.4 1111.1L1066.5 1108.5L1061 1107L1057.9 1105.2L1054.1 1101L1051.5 1096.1L1049 1093.6L1044.2 1093.4L1041.7 1090.9L1039.1 1086.1L1029.2 1081.1L1034.2 1068.7L1026.7 1058.7L1029.2 1053.4L1029.8 1049.7L1029.2 1043.8L1031.7 1031.4L1026.7 1018.9L1022.5 1015.1L1020.7 1012L1019.3 1006.5L1011.8 996.6L1006.5 994L1002.7 993.4L996.9 994.1L993.9 988.9L993 985.1L993.1 979.1L994.3 973.4L994 969.7L991.9 964.2L986 959.7L982.9 955.9L979.5 949.3L976.6 942.3L973.8 938.3Z M954.6 1018.9L959.8 1016.9L962.6 1014.8L965.8 1010.2L970.4 1007.1L973.9 1006.1L979.5 1006L985.1 1003.5L988.2 1001L991.9 996.1L997.4 991.6L993.1 986.1L984.4 994.1L974.5 1001L962.1 1006L952.6 1013.5Z M936.2 1147.1L946.2 1152.1L949.9 1164.5L958.6 1168.3L963.8 1171.2L967.6 1172.2L973.5 1172L979.3 1171L983 1171.5L986.4 1175L990.1 1175.5L995.9 1174.5L998.4 1184.4L990.9 1191.9L986 1199.4L988.5 1204.7L989.1 1208.4L988.5 1214.3L993.4 1224.2L990.9 1229.6L990.3 1233.3L990.9 1239.1L983.5 1249.1L978.5 1254.1L968.6 1259L966.1 1266.5L958.6 1269L948.7 1274L938.7 1278.9L936.2 1291.4L923.8 1288.9L911.4 1293.9L908.9 1298.8L898.9 1303.8L894 1311.3L886.5 1318.7L881.5 1326.2L871.6 1331.2L864.1 1338.6L869.1 1351L859.1 1356L854.2 1366L849.2 1378.4L841.7 1388.3L839.3 1400.8L834.3 1413.2L834.9 1419.1L834.3 1422.8L831.8 1428.1L826.8 1438.1L826.8 1445.5L825.5 1438.4L823.6 1434L819.4 1428.1L813.1 1425.6L809.4 1420.7L803.5 1422.2L799.5 1422.1L795.6 1418.8L791.7 1418.8L787.7 1421.9L783.8 1421.8L779.9 1418.6L775.9 1418.5L770 1420L766.4 1415.8L765.1 1412.6L766.6 1408.1L765.2 1404.9L760.9 1402.9L759.5 1399.7L761.1 1395.2L759.7 1392L755.3 1390L753.9 1386.8L755.5 1382.3L754.1 1379.1L749.8 1377.1L748.4 1373.9L749.9 1369.4L748.6 1366.2L745 1362L752.2 1358.9L757.3 1357.9L765.2 1358L766.8 1352.6L766.8 1349L765.2 1343.6L763.8 1337.9L764 1334.2L765.9 1328.7L759.7 1328.7L758.4 1318.7L760.5 1313.3L760.8 1309.5L759.7 1303.8L763.4 1301.3L765.9 1306.6L766.5 1310.4L765.9 1316.2L772.1 1326.2L782.1 1328.7L787 1326.2L797 1331.2L802.3 1333.7L806 1334.3L811.9 1333.6L818 1330.2L822.3 1329L829.3 1328.7L834.3 1322.5L846.7 1318.7L853.2 1316.3L856.9 1313.8L861.6 1308.8L865.5 1304.6L868.6 1302.7L874.1 1301.3L879 1291.4L880.6 1284.8L880.6 1280.5L879 1274L884 1264L891.5 1256.6L901.4 1254.1L902.4 1247.3L904.1 1243.1L908.7 1240.2L910.4 1236L911.4 1229.2L911 1223.3L911.9 1219.5L915.8 1216.5L916.7 1212.8L916.3 1206.8L923.8 1196.9L931.3 1186.9L938.7 1177L936.2 1171.6L935.6 1167.9L936.2 1162.1L937.8 1156.5L937.8 1152.7Z M1182.8 632.4L1193.2 632.4L1195.6 637.8L1203.4 639.4L1208.6 639.4L1216.4 637.8L1218 633.7L1228 630.8L1233.8 630.1L1237.6 630.8L1242.9 633.3L1248.4 636.5L1252.3 637.6L1258.6 637.8L1260.3 644L1257.8 646.5L1244.5 647.4L1233.8 644L1232.9 652.3L1226.3 654.8L1223 661.4L1216.4 663.9L1213 660.6L1206.4 656.5L1203.1 649.8L1196.5 647.4L1193.2 649L1183.2 647.4L1182.4 639.1Z M1059.7 1430L1072.1 1423.8L1075.1 1433.7L1065.9 1440.7Z M1375.6 1309.3L1380.8 1310.9L1384.3 1310.9L1389.6 1309.3L1389.6 1313.2L1384.3 1314.8L1380.8 1314.8L1375.6 1313.2Z"/></clipPath>
<g clip-path="url(#mt)">
<path d="M968.3 933.1L970.8 919.5L972 905.8L979.5 902.1L984.4 882.2L994.4 879.7L1014.3 873.5L1015.5 866L1029.2 859.8L1054.1 859.8L1080.2 857.3L1092.6 857.3L1093.9 869.7L1116.2 869.7L1116.2 878.4L1136.1 883.4L1156 887.1L1173.4 879.7L1193.3 879.7L1187.5 880.9L1207.4 885.9L1209.8 899.6L1226 900.8L1227.2 914.5L1232.2 929.4L1245.9 935.6L1247.1 949.3L1254.6 964.2L1264.5 969.2L1274.5 979.1L1286.9 984.1L1296.9 989.1L1304.3 985.4L1311.8 990.3L1319.3 985.4L1329.2 994.1L1339.1 990.3L1349.1 996.6L1359 992.8L1371.5 1006.5L1371.5 1026.4L1369 1038.8L1364 1053.7L1362.8 1068.7L1354.1 1078.6L1349.1 1088.6L1339.1 1093.5L1326.7 1101L1324.2 1118.4L1331.7 1125.9L1331.7 1140.8L1323 1148.2L1324.2 1165.6L1341.6 1173.1L1354.1 1171.9L1378.9 1173.1L1383.9 1185.5L1378.9 1200.5L1369 1199.2L1366.5 1193L1349.1 1190.5L1341.6 1185.5L1329.2 1178.1L1304.3 1178.1L1294.4 1183.1L1289.4 1207.9L1284.4 1217.9L1284.4 1227.8L1267 1232.8L1264.5 1240L1258.6 1243.5L1251.2 1249.7L1243.7 1257.2L1233.7 1264.7L1223.8 1267.1L1218.8 1272.1L1221.3 1279.6L1213.9 1289.5L1216.3 1299.5L1226.3 1306.9L1233.7 1316.9L1238.7 1329.3L1251.2 1334.3L1258.6 1346.7L1263.6 1359.1L1271 1369.1L1281 1371.6L1286 1361.6L1298.4 1359.1L1300.9 1349.2L1310.8 1343L1330.7 1344.2L1333.2 1351.7L1323.3 1361.6L1320.8 1374.1L1312.1 1379L1310.8 1394L1300.9 1398.9L1286 1394L1283.5 1401.4L1286 1411.4L1288.5 1423.8L1281 1436.2L1276 1446.2L1268.6 1453.6L1266.1 1463.6L1261.1 1476L1253.6 1486L1246.2 1498.4L1241.2 1510.8L1243.7 1520.8L1246.2 1535.7L1241.2 1548.1L1236.2 1555.6L1228.8 1558.1L1223.8 1568L1218.8 1578L1221.3 1587.9L1208.9 1582.9L1198.9 1573L1189 1587.9L1179 1592.9L1174.1 1607.8L1174.1 1622.7L1100 1645L950 1605L850 1525L790 1445L862.2 1482.7L870 1476.9L883.7 1469.1L895.4 1463.2L907.1 1457.3L914.9 1455.4L924.7 1449.5L934.5 1441.7L940.3 1438.8L948.1 1443.7L954 1449.5L969.6 1452.5L987.2 1447.6L989.2 1439.8L1002.8 1435.8L1006.7 1443.7L1012.6 1447.6L1022.4 1445.6L1030 1441.7L1024.9 1443.7L1044.8 1442.5L1052.2 1436.2L1072.1 1431.3L1074.6 1416.3L1084.5 1413.9L1089.5 1398.9L1099.5 1396.4L1104.4 1384L1116.9 1379L1124.3 1361.6L1131.8 1359.1L1139.3 1349.2L1149.2 1341.7L1154.2 1326.8L1159.1 1319.4L1171.6 1311.9L1174.1 1304.4L1169.1 1294.5L1171.6 1274.6L1174.1 1257.2L1171.6 1249.7L1161.6 1239.8L1159.1 1224.9L1154.2 1212.4L1149.2 1200L1151 1210.4L1138.6 1200.5L1128.7 1190.5L1101.3 1190.5L1103.8 1185.5L1106.3 1165.6L1098.8 1158.2L1096.3 1145.8L1086.4 1133.3L1076.4 1118.4L1066.5 1108.5L1054.1 1101L1039.1 1086.1L1029.2 1081.1L1034.2 1068.7L1026.7 1058.7L1029.2 1043.8L1031.7 1031.4L1026.7 1018.9L1019.3 1006.5L1011.8 996.6L996.9 994.1L993.1 979.1L991.9 964.2L979.5 949.3Z" fill="#50ff00"/>
<path d="M1262.1 969.2L1272 989.1L1284.4 1001.5L1294.4 1009L1309.3 1010.2L1329.2 1012.7L1344.1 1018.9L1350.3 1025.2L1359 1025.2L1364 1016.4L1366.5 1018.9L1354.1 1026.4L1346.6 1041.3L1334.2 1066.2L1319.3 1081.1L1301.8 1096L1289.4 1113.4L1284.4 1135.8L1272 1155.7L1257.1 1173.1L1244.7 1193L1229.7 1207.9L1209.8 1217.9L1194.9 1227.8L1185 1240L1184 1249.7L1179 1269.6L1174.1 1287L1170.3 1295.7L1100 1300L850 1250L850 800L1300 800L1300 900Z" fill="#00ff5a"/>
<path d="M1186.2 880.9L1197.4 892.1L1212.3 902.1L1221 909.5L1238.4 933.1L1240.9 959.3L1242.2 994.1L1239.7 1031.4L1233.5 1068.7L1224.8 1093.5L1212.3 1113.4L1194.9 1127.1L1180 1133.8L1178.4 1134.6L1153.5 1139.5L1133.6 1145.8L1118.7 1158.2L1111.3 1166.9L1105 1166.9L850 1170L850 800L1186 800Z" fill="#00ffd2"/>
<path d="M970.8 934.4L974.5 919.5L984.4 892.1L993.1 882.2L996.9 885.9L1009.3 879.7L1029.2 873.5L1054.1 871L1078.9 872.2L1096.3 876L1113.7 878.9L1118.7 854.8L964.5 854.8L964.5 936.9Z" fill="#00ff5a"/>
<path d="M1034.2 939.4L1036.7 929.4L1041.6 919.5L1051.6 909.5L1064 905.8L1078.9 908.3L1103.8 914.5L1133.6 919.5L1153.5 914.5L1170.9 913.3L1183.4 918.2L1193.3 929.4L1198.3 944.3L1197.1 964.2L1190.8 984.1L1178.4 999L1163.5 1009L1141.1 1014L1118.7 1010.2L1098.8 1001.5L1078.9 989.1L1059 974.2L1044.1 959.3L1036.7 949.3Z" fill="#00ffff"/>
<path d="M1220.1 1277.1L1218.8 1268.4L1211.4 1265.2L1202.7 1267.1L1194 1277.1L1189 1289.5L1185.3 1304.4L1179 1316.9L1169.1 1331.8L1154.2 1344.2L1146.7 1359.1L1135.5 1366.6L1129.3 1389L1119.4 1406.4L1109.4 1421.3L1105.7 1433.7L1109.4 1448.7L1124.3 1454.9L1134.3 1461.1L1136.8 1473.5L1131.8 1482.2L1119.4 1486L1111.9 1490.9L1109.4 1523.3L1106.9 1533.2L1100 1660L1420 1660L1420 1285L1225 1282Z" fill="#ffff00"/>
<path d="M856.3 1455.4L985.3 1416.3L985.3 1460.3L959.9 1457.3L944.2 1454.4L930.6 1456.4L914.9 1457.3L895.4 1465.2L875.8 1476.9L864.1 1486.6Z" fill="#ffff00"/>
<path d="M1070.9 1471L1083.3 1471.5L1092 1480.5L1071.6 1480.5Z" fill="#ffff00"/>
<path d="M1286 1407.6L1281 1397.7L1273.5 1385.3L1267.3 1381.5L1259.9 1382.8L1253.6 1391.5L1251.2 1408.9L1241.2 1428.8L1228.8 1448.7L1216.3 1463.6L1206.4 1481L1196.4 1495.9L1184 1508.3L1169.1 1519.5L1154.2 1523.3L1139.3 1522L1124.3 1518.3L1116.9 1520.8L1109.4 1528.2L1100 1660L1420 1660L1420 1410Z" fill="#ffd72d"/>
<path d="M864.1 1486.6L875.8 1476.9L895.4 1465.2L914.9 1457.3L930.6 1456.4L944.2 1454.4L959.9 1457.3L977.4 1459.3L993.1 1461.2L1012.6 1460.3L1030 1462.2L1030 1494.5L973.5 1572.6L836.8 1572.6Z" fill="#ffd72d"/>
<path d="M942.3 1542.3L952 1531.6L961.8 1521.8L968.7 1516L969.6 1510.1L962.8 1500.3L962.8 1492.5L969.6 1484.7L979.4 1478.8L983.3 1472L993.1 1467.1L1004.8 1470L1016.5 1474.9L1104.4 1534.5L1114.4 1536.9L1121.8 1535.7L1139.3 1540.7L1159.1 1545.6L1174.1 1549.4L1194 1551.9L1206.4 1550.6L1216.3 1543.2L1223.8 1533.2L1228.8 1528.2L1233.7 1523.3L1236.2 1533.2L1238.7 1544.4L1235 1548.1L1235 1555.6L1300 1600L1300 1700L900 1700L900 1560Z" fill="#ffb437"/>
<path d="M1345.4 1189.3L1349.1 1180.6L1359 1175.6L1371.5 1178.1L1377.7 1188L1378.9 1198L1369 1199.2L1366.5 1193L1351.6 1190.5Z" fill="#ffff00"/>
<path d="M1285.7 1226.6L1291.9 1226.6L1291.9 1230.8L1285.7 1230.8Z" fill="#ffff00"/>
<path d="M1059.7 1430L1072.1 1423.8L1075.1 1433.7L1065.9 1440.7Z" fill="#00ff96"/>
<path d="M936.2 1147.1L946.2 1152.1L949.9 1164.5L958.6 1168.3L973.5 1172L995.9 1174.5L998.4 1184.4L990.9 1191.9L986 1199.4L988.5 1214.3L993.4 1224.2L990.9 1239.1L983.5 1249.1L978.5 1254.1L968.6 1259L966.1 1266.5L958.6 1269L948.7 1274L938.7 1278.9L936.2 1291.4L923.8 1288.9L911.4 1293.9L908.9 1298.8L898.9 1303.8L894 1311.3L886.5 1318.7L881.5 1326.2L871.6 1331.2L864.1 1338.6L869.1 1351L859.1 1356L854.2 1366L849.2 1378.4L841.7 1388.3L839.3 1400.8L834.3 1413.2L831.8 1428.1L826.8 1438.1L826.8 1445.5L819.4 1428.1L813.1 1425.6L809.4 1420.7L770 1420L745 1362L765.2 1358L765.2 1343.6L765.9 1328.7L759.7 1328.7L758.4 1318.7L759.7 1303.8L763.4 1301.3L765.9 1316.2L772.1 1326.2L782.1 1328.7L787 1326.2L797 1331.2L811.9 1333.6L829.3 1328.7L834.3 1322.5L846.7 1318.7L861.6 1308.8L874.1 1301.3L879 1291.4L879 1274L884 1264L891.5 1256.6L901.4 1254.1L911.4 1229.2L916.3 1206.8L923.8 1196.9L931.3 1186.9L938.7 1177L936.2 1162.1Z" fill="#00ffff"/>
<path d="M949.9 1165.8L953.6 1177L963.6 1182L978.5 1185.7L997.2 1187.4L998.4 1174.5L973.5 1170.8L958.6 1167.5Z" fill="#4adcff"/>
<path d="M988.5 1193.1L963.6 1193.9L946.2 1199.4L933.7 1211.8L923.8 1229.2L913.9 1246.6L906.4 1254.1L898.9 1255.3L874.1 1274L859.1 1303.8L824.3 1326.2L824.3 1353.5L1010.8 1353.5L1010.8 1193.1Z" fill="#00ffd2"/>
<path d="M983.5 1199.4L968.6 1206.8L953.6 1219.3L938.7 1234.2L926.3 1251.6L913.9 1269L907.6 1283.9L907.6 1296.3L911.4 1298.8L911.4 1303.8L1010.8 1303.8L1010.8 1199.4Z" fill="#00ff5a"/>
<path d="M839.3 1324.9L851.7 1326.2L864.1 1320L874.1 1311.3L884 1312.5L889 1318.7L885.3 1322.5L871.6 1332.4L859.1 1339.1L839.3 1337.4L825.6 1334.9L829.3 1328.7Z" fill="#50ff00"/>
<path d="M839.3 1324.9L851.7 1326.2L864.1 1320L874.1 1311.3L884 1312.5L885.3 1321.2L879 1318.7L866.6 1326.2L851.7 1332.4L829.3 1331.2Z" fill="#00ff5a"/>
<path d="M763.4 1358.5L763.4 1328.7L772.1 1329.9L784.5 1328.7L789 1336.1L779.6 1344.1L770.1 1352.3L765.2 1359.8Z" fill="#50ff00"/>
<path d="M763.4 1357.3L774.6 1343.6L787 1336.1L797 1332.4L811.9 1334.9L826.8 1336.1L839.3 1338.6L859.1 1339.9L874.1 1339.9L874.1 1453L799.5 1453Z" fill="#ffff00"/>
<path d="M784.5 1388.3L799.5 1383.4L816.9 1382.1L829.3 1387.1L831.8 1398.3L829.3 1413.2L826.8 1428.1L828.1 1440.6L827.3 1445.5L829.3 1453L794.5 1453L774.6 1403.3Z" fill="#ffd72d"/>
<path d="M1375.6 1309.3L1389.6 1309.3L1389.6 1313.2L1375.6 1313.2Z" fill="#ffff00"/>
<path d="M1182.8 632.4L1193.2 632.4L1195.6 637.8L1216.4 637.8L1218 633.7L1228 630.8L1242.9 633.3L1258.6 637.8L1260.3 644L1257.8 646.5L1244.5 647.4L1233.8 644L1232.9 652.3L1226.3 654.8L1223 661.4L1216.4 663.9L1213 660.6L1206.4 656.5L1203.1 649.8L1196.5 647.4L1193.2 649L1183.2 647.4L1182.4 639.1Z" fill="#0a78ff"/>
<path d="M1182.8 639.1L1191.5 639.9L1193.2 647.4L1184 647.8Z" fill="#0000ff"/>
<path d="M1199 647.4L1206.4 646.5L1223 653.2L1224.7 657.3L1221.3 662.3L1214.7 663.1L1206.4 655.6Z" fill="#0000ff"/>
<path d="M1246.2 643.2L1257 642L1258.6 644.9L1247 646.9Z" fill="#0000ff"/>
</g>
<path d="M1008.6 1475.6L1021.3 1468.7L1040.8 1462.9L1060.4 1463.8L1072.1 1475.6L1072.1 1471.7L1089.7 1472.6L1095.6 1477.5L1105.3 1483.4L1111.2 1493.2L1113.1 1504.9L1117 1518.6L1107.3 1528.3L1095.6 1532.2L1079.9 1534.2L1062.3 1536.1L1062.3 1542L1050.6 1542L1048.7 1534.2L1038.9 1532.2L1036.9 1525.4L1021.3 1524.4L1013.5 1516.6L1011.5 1502.9L1005.7 1493.2L1005.7 1483.4Z M1124.9 1569.3L1134.6 1564.5L1152.2 1563.5L1154.2 1575.2L1158.1 1581.1L1152.2 1588.9L1146.3 1592.8L1134.6 1592.8L1126.8 1586.9L1124.9 1577.2Z M1143.4 1422.8L1150.3 1420.9L1154.2 1428.7L1151.2 1436.5L1146.3 1432.6Z M1132.4 879.2L1134.4 899.1L1148.6 901.1L1155 892.1L1163.5 883.4L1158.5 877.7Z M1188.3 1119.6L1194.6 1113.4L1202 1108.5L1205.8 1110.9L1203.3 1117.2L1195.8 1122.1L1192.1 1124.6Z M809.4 1419.4L816.9 1420.7L821.8 1430.6L815.6 1433.1Z M1195.2 632.4L1217.2 632.4L1216.4 637.8L1196.5 638.2Z" fill="#fff"/>
<path d="M1072.5 1472L1089.7 1472.8L1089.7 1479.1L1079.9 1480.5L1072.5 1476Z" fill="#ffff00"/>
<circle cx="1194" cy="1122.4" r="240.9" class="gd"/>
<line x1="1194" y1="631.4" x2="1194" y2="1122.4" class="gd gm"/>
<line x1="1439.5" y1="697.2" x2="1314.5" y2="913.8" class="gd gm"/>
<line x1="1619.2" y1="876.9" x2="1402.6" y2="1002" class="gd gm"/>
<line x1="1685" y1="1122.4" x2="1194" y2="1122.4" class="gd gm"/>
<line x1="1619.2" y1="1367.9" x2="1402.6" y2="1242.9" class="gd gm"/>
<line x1="1439.5" y1="1547.6" x2="1314.5" y2="1331" class="gd gm"/>
<line x1="1194" y1="1613.4" x2="1194" y2="1122.4" class="gd gm" style="stroke-width:2.8"/>
<line x1="948.5" y1="1547.6" x2="1073.5" y2="1331" class="gd gm"/>
<line x1="768.8" y1="1367.9" x2="985.4" y2="1242.9" class="gd gm"/>
<line x1="703" y1="1122.4" x2="1194" y2="1122.4" class="gd gm"/>
<line x1="768.8" y1="876.9" x2="985.4" y2="1002" class="gd gm"/>
<line x1="948.5" y1="697.2" x2="1073.5" y2="913.8" class="gd gm"/>
<path d="M1186.2 880.9L1197.4 892.1L1212.3 902.1L1221 909.5 M1238.4 933.1L1240.9 959.3L1242.2 994.1L1239.7 1031.4L1233.5 1068.7L1224.8 1093.5L1212.3 1113.4L1194.9 1127.1L1180 1133.8L1178.4 1134.6L1153.5 1139.5L1133.6 1145.8L1118.7 1158.2L1111.3 1166.9L1105 1166.9 M1262.1 969.2L1272 989.1L1284.4 1001.5L1294.4 1009L1309.3 1010.2L1329.2 1012.7L1344.1 1018.9L1350.3 1025.2L1359 1025.2L1364 1016.4 M1366.5 1018.9L1354.1 1026.4L1346.6 1041.3L1334.2 1066.2L1319.3 1081.1L1301.8 1096L1289.4 1113.4L1284.4 1135.8L1272 1155.7L1257.1 1173.1L1244.7 1193L1229.7 1207.9L1209.8 1217.9L1194.9 1227.8L1185 1240L1184 1249.7L1179 1269.6L1174.1 1287L1170.3 1295.7 M1220.1 1277.1L1218.8 1268.4L1211.4 1265.2L1202.7 1267.1L1194 1277.1L1189 1289.5L1185.3 1304.4L1179 1316.9L1169.1 1331.8L1154.2 1344.2L1146.7 1359.1L1135.5 1366.6L1129.3 1389L1119.4 1406.4L1109.4 1421.3L1105.7 1433.7L1109.4 1448.7L1124.3 1454.9L1134.3 1461.1L1136.8 1473.5L1131.8 1482.2L1119.4 1486L1111.9 1490.9 M1281 1397.7L1273.5 1385.3L1267.3 1381.5L1259.9 1382.8L1253.6 1391.5L1251.2 1408.9L1241.2 1428.8L1228.8 1448.7L1216.3 1463.6L1206.4 1481L1196.4 1495.9L1184 1508.3L1169.1 1519.5L1154.2 1523.3L1139.3 1522L1124.3 1518.3L1116.9 1520.8 M1104.4 1534.5L1114.4 1536.9L1121.8 1535.7L1139.3 1540.7L1159.1 1545.6L1174.1 1549.4L1194 1551.9L1206.4 1550.6L1216.3 1543.2L1223.8 1533.2L1228.8 1528.2L1233.7 1523.3L1236.2 1533.2L1238.7 1544.4L1235 1548.1L1235 1555.6 M970.8 934.4L974.5 919.5L984.4 892.1L993.1 882.2L996.9 885.9L1009.3 879.7L1029.2 873.5L1054.1 871L1078.9 872.2L1096.3 876L1113.7 878.9 M870 1481.8L881.7 1473.9L895.4 1465.2L914.9 1457.3L930.6 1456.4L944.2 1454.4L959.9 1457.3L977.4 1459.3L993.1 1461.2L1012.6 1460.3L1030 1462.2 M942.3 1542.3L952 1531.6L961.8 1521.8L968.7 1516L969.6 1510.1L962.8 1500.3L962.8 1492.5L969.6 1484.7L979.4 1478.8L983.3 1472L993.1 1467.1L1004.8 1470L1016.5 1474.9 M988.5 1193.1L963.6 1193.9L946.2 1199.4L933.7 1211.8L923.8 1229.2L913.9 1246.6L906.4 1254.1L898.9 1255.3 M983.5 1199.4L968.6 1206.8L953.6 1219.3L938.7 1234.2L926.3 1251.6L913.9 1269L907.6 1283.9L907.6 1296.3L911.4 1298.8 M949.9 1167L953.6 1177L963.6 1182L978.5 1185.7L995.9 1186.9 M839.3 1324.9L851.7 1326.2L864.1 1320L874.1 1311.3L884 1312.5 M829.3 1331.2L851.7 1332.4L866.6 1326.2L879 1318.7L885.3 1321.2 M825.6 1334.9L839.3 1337.4L859.1 1339.1L871.6 1332.4 M784.5 1388.3L799.5 1383.4L816.9 1382.1L829.3 1387.1L831.8 1398.3L829.3 1413.2L826.8 1428.1L828.1 1440.6L827.3 1445.5 M1344.1 1191.8L1345.4 1184.3L1354.1 1176.8L1364 1174.4L1374 1180.6L1377.7 1195.5 M1355.3 1036.3L1364 1033.9 M1357.8 1036.3L1355.3 1045L1359 1047.5L1357.8 1055 M1046 1440L1057.2 1438.7L1059.7 1431.3 M1145.5 1427.5L1151.7 1423.3 M1196.9 649L1200.6 646.5L1206.4 646.9L1223 654 M1244.1 646.9L1253.7 645.7L1257 642.4 M1034.2 939.4L1036.7 929.4L1041.6 919.5L1051.6 909.5L1064 905.8L1078.9 908.3L1103.8 914.5L1133.6 919.5L1153.5 914.5L1170.9 913.3L1183.4 918.2L1193.3 929.4L1198.3 944.3L1197.1 964.2L1190.8 984.1L1178.4 999L1163.5 1009L1141.1 1014L1118.7 1010.2L1098.8 1001.5L1078.9 989.1L1059 974.2L1044.1 959.3L1036.7 949.3Z" class="cn"/>
<use href="#coast"/>
</g>
<circle cx="1194" cy="1122" r="491.3" class="bd"/>
<text transform="translate(1194,621.2) scale(0.977,1)" class="lb" text-anchor="middle">180</text>
<text transform="translate(1194,1644) scale(0.977,1)" class="lb" text-anchor="middle">0</text>
<text transform="translate(937.6,690.1) scale(0.977,1)" class="lb" text-anchor="end">150W</text>
<text transform="translate(750.6,876.9) scale(0.977,1)" class="lb" text-anchor="end">120W</text>
<text transform="translate(683.2,1132.2) scale(0.977,1)" class="lb" text-anchor="end">90W</text>
<text transform="translate(750.6,1388.2) scale(0.977,1)" class="lb" text-anchor="end">60W</text>
<text transform="translate(936.6,1575.3) scale(0.977,1)" class="lb" text-anchor="end">30W</text>
<text transform="translate(1449.2,690.1) scale(0.977,1)" class="lb" text-anchor="start">150E</text>
<text transform="translate(1636.2,876.9) scale(0.977,1)" class="lb" text-anchor="start">120E</text>
<text transform="translate(1704.8,1132.2) scale(0.977,1)" class="lb" text-anchor="start">90E</text>
<text transform="translate(1636.2,1388.2) scale(0.977,1)" class="lb" text-anchor="start">60E</text>
<text transform="translate(1449.2,1575.3) scale(0.977,1)" class="lb" text-anchor="start">30E</text>
<rect x="1762.5" y="663.5" width="58" height="46.2" fill="#c80000"/>
<rect x="1762.5" y="709.4" width="58" height="46.2" fill="#e60000"/>
<rect x="1762.5" y="755.3" width="58" height="46.2" fill="#ff1e00"/>
<rect x="1762.5" y="801.2" width="58" height="46.2" fill="#f88c00"/>
<rect x="1762.5" y="847" width="58" height="46.2" fill="#ffa023"/>
<rect x="1762.5" y="892.9" width="58" height="46.2" fill="#ffb437"/>
<rect x="1762.5" y="938.8" width="58" height="46.2" fill="#ffd72d"/>
<rect x="1762.5" y="984.7" width="58" height="46.2" fill="#ffff00"/>
<rect x="1762.5" y="1030.6" width="58" height="46.2" fill="#50ff00"/>
<rect x="1762.5" y="1076.5" width="58" height="46.2" fill="#00ff5a"/>
<rect x="1762.5" y="1122.3" width="58" height="46.2" fill="#00ffd2"/>
<rect x="1762.5" y="1168.2" width="58" height="46.2" fill="#00ffff"/>
<rect x="1762.5" y="1214.1" width="58" height="46.2" fill="#1ee6ff"/>
<rect x="1762.5" y="1260" width="58" height="46.2" fill="#00bfff"/>
<rect x="1762.5" y="1305.9" width="58" height="46.2" fill="#007dff"/>
<rect x="1762.5" y="1351.8" width="58" height="46.2" fill="#0000ff"/>
<rect x="1762.5" y="1397.7" width="58" height="46.2" fill="#9600dc"/>
<rect x="1762.5" y="1443.5" width="58" height="46.2" fill="#e600e6"/>
<rect x="1762.5" y="1489.4" width="58" height="46.2" fill="#d3d3d3"/>
<rect x="1762.5" y="1535.3" width="58" height="46.2" fill="#767676"/>
<line x1="1762.5" y1="709.4" x2="1820.5" y2="709.4" class="cb"/>
<line x1="1762.5" y1="755.3" x2="1820.5" y2="755.3" class="cb"/>
<line x1="1762.5" y1="801.2" x2="1820.5" y2="801.2" class="cb"/>
<line x1="1762.5" y1="847" x2="1820.5" y2="847" class="cb"/>
<line x1="1762.5" y1="892.9" x2="1820.5" y2="892.9" class="cb"/>
<line x1="1762.5" y1="938.8" x2="1820.5" y2="938.8" class="cb"/>
<line x1="1762.5" y1="984.7" x2="1820.5" y2="984.7" class="cb"/>
<line x1="1762.5" y1="1030.6" x2="1820.5" y2="1030.6" class="cb"/>
<line x1="1762.5" y1="1076.5" x2="1820.5" y2="1076.5" class="cb"/>
<line x1="1762.5" y1="1122.3" x2="1820.5" y2="1122.3" class="cb"/>
<line x1="1762.5" y1="1168.2" x2="1820.5" y2="1168.2" class="cb"/>
<line x1="1762.5" y1="1214.1" x2="1820.5" y2="1214.1" class="cb"/>
<line x1="1762.5" y1="1260" x2="1820.5" y2="1260" class="cb"/>
<line x1="1762.5" y1="1305.9" x2="1820.5" y2="1305.9" class="cb"/>
<line x1="1762.5" y1="1351.8" x2="1820.5" y2="1351.8" class="cb"/>
<line x1="1762.5" y1="1397.7" x2="1820.5" y2="1397.7" class="cb"/>
<line x1="1762.5" y1="1443.5" x2="1820.5" y2="1443.5" class="cb"/>
<line x1="1762.5" y1="1489.4" x2="1820.5" y2="1489.4" class="cb"/>
<line x1="1762.5" y1="1535.3" x2="1820.5" y2="1535.3" class="cb"/>
<rect x="1762.5" y="663.5" width="58" height="917.7" fill="none" class="cb"/>
<text transform="translate(1871,673.4) scale(0.977,1)" class="lb" text-anchor="middle">37</text>
<text transform="translate(1871,719.2) scale(0.977,1)" class="lb" text-anchor="middle">36.75</text>
<text transform="translate(1871,765.1) scale(0.977,1)" class="lb" text-anchor="middle">36.5</text>
<text transform="translate(1871,811) scale(0.977,1)" class="lb" text-anchor="middle">36.25</text>
<text transform="translate(1871,856.9) scale(0.977,1)" class="lb" text-anchor="middle">36</text>
<text transform="translate(1871,902.8) scale(0.977,1)" class="lb" text-anchor="middle">35.75</text>
<text transform="translate(1871,948.7) scale(0.977,1)" class="lb" text-anchor="middle">35.5</text>
<text transform="translate(1871,994.5) scale(0.977,1)" class="lb" text-anchor="middle">35.25</text>
<text transform="translate(1871,1040.4) scale(0.977,1)" class="lb" text-anchor="middle">35</text>
<text transform="translate(1871,1086.3) scale(0.977,1)" class="lb" text-anchor="middle">34.75</text>
<text transform="translate(1871,1132.2) scale(0.977,1)" class="lb" text-anchor="middle">34.5</text>
<text transform="translate(1871,1178.1) scale(0.977,1)" class="lb" text-anchor="middle">34.25</text>
<text transform="translate(1871,1224) scale(0.977,1)" class="lb" text-anchor="middle">34</text>
<text transform="translate(1871,1269.9) scale(0.977,1)" class="lb" text-anchor="middle">33.75</text>
<text transform="translate(1871,1315.7) scale(0.977,1)" class="lb" text-anchor="middle">33.5</text>
<text transform="translate(1871,1361.6) scale(0.977,1)" class="lb" text-anchor="middle">33.25</text>
<text transform="translate(1871,1407.5) scale(0.977,1)" class="lb" text-anchor="middle">33</text>
<text transform="translate(1871,1453.4) scale(0.977,1)" class="lb" text-anchor="middle">32.75</text>
<text transform="translate(1871,1499.3) scale(0.977,1)" class="lb" text-anchor="middle">32.5</text>
<text transform="translate(1871,1545.2) scale(0.977,1)" class="lb" text-anchor="middle">32.25</text>
<text transform="translate(1871,1591) scale(0.977,1)" class="lb" text-anchor="middle">32</text>
<g clip-path="url(#c2)">
<clipPath id="mb"><path d="M968.3 2058.1L970.8 2044.5L972 2030.8L979.5 2027.1L982.9 2020L984.1 2015L984.4 2007.2L994.4 2004.7L1001.4 2000.8L1006.3 1999.3L1014.3 1998.5L1015.5 1991L1021.3 1990.1L1024.7 1988.6L1029.2 1984.8L1035.4 1983.2L1039.6 1983.2L1043.7 1986.4L1047.9 1986.4L1054.1 1984.8L1060.4 1982.6L1064.8 1982.2L1069.5 1984.9L1073.8 1984.5L1080.2 1982.3L1092.6 1982.3L1093.9 1994.7L1099.4 1993.1L1103.2 1993.1L1106.9 1996.3L1110.6 1996.3L1116.2 1994.7L1116.2 2003.4L1124.1 2003.7L1129.1 2005L1136.1 2008.4L1143.3 2011.4L1148.3 2012.3L1156 2012.1L1161.9 2007.9L1166.3 2006L1173.4 2004.7L1180.9 2006.3L1185.9 2006.3L1193.3 2004.7L1187.5 2005.9L1195.3 2006.2L1200.3 2007.5L1207.4 2010.9L1209.8 2024.6L1215.8 2026.6L1219.8 2026.9L1226 2025.8L1227.2 2039.5L1230.6 2044.6L1231.9 2048.3L1232.2 2054.4L1236.7 2058.2L1240.1 2059.8L1245.9 2060.6L1247.1 2074.3L1251.4 2079.2L1253.2 2082.9L1254.6 2089.2L1264.5 2094.2L1267.1 2099.1L1269.6 2101.5L1274.5 2104.1L1286.9 2109.1L1296.9 2114.1L1304.3 2110.4L1311.8 2115.3L1319.3 2110.4L1329.2 2119.1L1339.1 2115.3L1349.1 2121.6L1359 2117.8L1364.9 2121.9L1368 2125.3L1371.5 2131.5L1369.9 2139L1369.9 2143.9L1371.5 2151.4L1369 2163.8L1368.6 2169.9L1367.4 2173.7L1364 2178.7L1362 2184.2L1361.6 2187.9L1362.8 2193.7L1354.1 2203.6L1349.1 2213.6L1339.1 2218.5L1335.3 2222.7L1332.2 2224.6L1326.7 2226L1324.2 2232.3L1323.6 2236.6L1324.2 2243.4L1331.7 2250.9L1333.3 2256.5L1333.3 2260.2L1331.7 2265.8L1323 2273.2L1321.9 2279.9L1322.2 2284.2L1324.2 2290.6L1331.4 2292L1335.7 2293.8L1341.6 2298.1L1354.1 2296.9L1360.2 2298.8L1364.3 2299L1368.7 2296L1372.8 2296.2L1378.9 2298.1L1383.9 2310.5L1380.5 2315.6L1379.3 2319.4L1378.9 2325.5L1369 2324.2L1366.5 2318L1359.7 2318.7L1355.4 2318L1349.1 2315.5L1341.6 2310.5L1337.8 2306.4L1334.7 2304.5L1329.2 2303.1L1323 2304.7L1318.8 2304.7L1314.7 2301.5L1310.6 2301.5L1304.3 2303.1L1294.4 2308.1L1294.7 2314.6L1293.9 2318.7L1289.9 2322.2L1289.1 2326.4L1289.4 2332.9L1284.4 2342.9L1284.4 2352.8L1278.4 2356.2L1274 2357.5L1267 2357.8L1264.5 2365L1258.6 2368.5L1251.2 2374.7L1243.7 2382.2L1233.7 2389.7L1223.8 2392.1L1218.8 2397.1L1221.3 2404.6L1213.9 2414.5L1216.3 2424.5L1226.3 2431.9L1233.7 2441.9L1238.7 2454.3L1251.2 2459.3L1252.6 2464.8L1254.4 2467.9L1258.6 2471.7L1263.6 2484.1L1271 2494.1L1281 2496.6L1286 2486.6L1298.4 2484.1L1300.9 2474.2L1310.8 2468L1318.4 2466.9L1323.4 2467.2L1330.7 2469.2L1333.2 2476.7L1328.4 2479.3L1325.9 2481.8L1323.3 2486.6L1320.8 2499.1L1312.1 2504L1313.2 2509.8L1312.9 2513.5L1310.8 2519L1300.9 2523.9L1295.8 2520.6L1292.1 2519.3L1286 2519L1283.5 2526.4L1286 2536.4L1288.5 2548.8L1287 2554.3L1285.2 2557.4L1281 2561.2L1276 2571.2L1268.6 2578.6L1266.1 2588.6L1261.1 2601L1253.6 2611L1249.5 2614.8L1247.6 2617.9L1246.2 2623.4L1241.2 2635.8L1243.7 2645.8L1246.2 2651.1L1246.8 2654.8L1246.2 2660.7L1241.2 2673.1L1236.2 2680.6L1228.8 2683.1L1223.8 2693L1218.8 2703L1221.3 2712.9L1208.9 2707.9L1206.3 2703.1L1203.8 2700.6L1198.9 2698L1196.5 2704.5L1194 2708.2L1189 2712.9L1179 2717.9L1175.7 2723L1174.4 2726.7L1174.1 2732.8L1175.7 2738.4L1175.7 2742.1L1174.1 2747.7L1168.6 2747.7L1165.2 2748.7L1162.7 2752.8L1159.4 2753.8L1155.1 2751.8L1151.7 2752.8L1149.3 2756.9L1145.9 2757.9L1141.6 2755.8L1138.3 2756.8L1135.8 2760.9L1132.4 2761.9L1128.2 2759.9L1124.8 2760.9L1122.3 2765L1119 2766L1114.7 2763.9L1111.3 2764.9L1108.9 2769L1105.5 2770L1100 2770L950 2730L946.8 2725.4L944.1 2723.2L939.3 2723.5L936.5 2721.2L935.7 2716.5L932.9 2714.3L928.2 2714.6L925.4 2712.4L924.6 2707.6L921.8 2705.4L917.1 2705.7L914.3 2703.5L913.5 2698.8L910.7 2696.5L905.9 2696.8L903.2 2694.6L902.4 2689.9L899.6 2687.6L894.8 2687.9L892.1 2685.7L891.3 2681L888.5 2678.8L883.7 2679L880.9 2676.8L880.2 2672.1L877.4 2669.9L872.6 2670.1L869.8 2667.9L869.1 2663.2L866.3 2661L861.5 2661.2L858.7 2659L857.9 2654.3L855.2 2652.1L850 2650L845.5 2646.7L843.4 2643.8L843.8 2639L841.6 2636.2L836.9 2635.2L834.8 2632.4L835.2 2627.6L833.1 2624.8L828.4 2623.8L826.2 2621L826.6 2616.2L824.5 2613.3L819.8 2612.4L817.6 2609.5L818.1 2604.8L815.9 2601.9L811.2 2601L809.1 2598.1L809.5 2593.3L807.4 2590.5L802.6 2589.5L800.5 2586.7L800.9 2581.9L798.8 2579L794.1 2578.1L791.9 2575.2L790 2570L794.2 2574L797.5 2575.7L802.2 2574.6L805.5 2576.3L807.3 2580.9L810.6 2582.6L815.3 2581.4L818.6 2583.2L820.4 2587.7L823.7 2589.4L828.5 2588.3L831.7 2590L833.5 2594.6L836.8 2596.3L841.6 2595.2L844.9 2596.9L846.7 2601.4L849.9 2603.1L854.7 2602L858 2603.7L862.2 2607.7L870 2601.9L875.9 2600.3L879.3 2598.4L883.7 2594.1L895.4 2588.2L907.1 2582.3L914.9 2580.4L924.7 2574.5L934.5 2566.7L940.3 2563.8L948.1 2568.7L954 2574.5L960.2 2574L964.1 2574.8L969.6 2577.5L976.6 2577.2L981 2575.9L987.2 2572.6L989.2 2564.8L993.9 2561.7L997.3 2560.8L1002.8 2560.8L1006.7 2568.7L1012.6 2572.6L1022.4 2570.6L1030 2566.7L1024.9 2568.7L1032.4 2569.8L1037.4 2569.5L1044.8 2567.5L1052.2 2561.2L1059.3 2557.8L1064.3 2556.6L1072.1 2556.3L1074.6 2550.9L1075.2 2547.2L1074.6 2541.3L1084.5 2538.9L1084.9 2532.8L1086.1 2529L1089.5 2523.9L1099.5 2521.4L1104.4 2509L1116.9 2504L1121.1 2498.1L1123 2493.8L1124.3 2486.6L1131.8 2484.1L1139.3 2474.2L1149.2 2466.7L1149.5 2460.6L1150.8 2456.9L1154.2 2451.8L1159.1 2444.4L1164.6 2442.9L1167.7 2441.1L1171.6 2436.9L1174.1 2429.4L1169.1 2419.5L1168.4 2411.8L1169.1 2406.9L1171.6 2399.6L1174.1 2393.3L1174.7 2388.9L1174.1 2382.2L1171.6 2374.7L1166.7 2372.1L1164.2 2369.6L1161.6 2364.8L1162.3 2358.9L1161.7 2355.2L1159.1 2349.9L1154.2 2337.4L1149.2 2325L1151 2335.4L1145.4 2332.9L1142.3 2330.4L1138.6 2325.5L1136 2320.6L1133.5 2318.1L1128.7 2315.5L1121.8 2317.1L1117.3 2317.1L1112.7 2313.9L1108.2 2313.9L1101.3 2315.5L1103.8 2310.5L1103.1 2302.9L1103.8 2297.9L1106.3 2290.6L1098.8 2283.2L1096.3 2270.8L1093.9 2265.1L1091.4 2262L1086.4 2258.3L1081.3 2253.6L1078.8 2249.9L1076.4 2243.4L1073.8 2238.5L1071.4 2236.1L1066.5 2233.5L1061 2232L1057.9 2230.2L1054.1 2226L1051.5 2221.1L1049 2218.6L1044.2 2218.4L1041.7 2215.9L1039.1 2211.1L1029.2 2206.1L1034.2 2193.7L1026.7 2183.7L1029.2 2178.4L1029.8 2174.7L1029.2 2168.8L1031.7 2156.4L1026.7 2143.9L1022.5 2140.1L1020.7 2137L1019.3 2131.5L1011.8 2121.6L1006.5 2119L1002.7 2118.4L996.9 2119.1L993.9 2113.9L993 2110.1L993.1 2104.1L994.3 2098.4L994 2094.7L991.9 2089.2L986 2084.7L982.9 2080.9L979.5 2074.3L976.6 2067.3L973.8 2063.3Z M954.6 2143.9L959.8 2141.9L962.6 2139.8L965.8 2135.2L970.4 2132.1L973.9 2131.1L979.5 2131L985.1 2128.5L988.2 2126L991.9 2121.1L997.4 2116.6L993.1 2111.1L984.4 2119.1L974.5 2126L962.1 2131L952.6 2138.5Z M936.2 2272.1L946.2 2277.1L949.9 2289.5L958.6 2293.3L963.8 2296.2L967.6 2297.2L973.5 2297L979.3 2296L983 2296.5L986.4 2300L990.1 2300.5L995.9 2299.5L998.4 2309.4L990.9 2316.9L986 2324.4L988.5 2329.7L989.1 2333.4L988.5 2339.3L993.4 2349.2L990.9 2354.6L990.3 2358.3L990.9 2364.1L983.5 2374.1L978.5 2379.1L968.6 2384L966.1 2391.5L958.6 2394L948.7 2399L938.7 2403.9L936.2 2416.4L923.8 2413.9L911.4 2418.9L908.9 2423.8L898.9 2428.8L894 2436.3L886.5 2443.7L881.5 2451.2L871.6 2456.2L864.1 2463.6L869.1 2476L859.1 2481L854.2 2491L849.2 2503.4L841.7 2513.3L839.3 2525.8L834.3 2538.2L834.9 2544.1L834.3 2547.8L831.8 2553.1L826.8 2563.1L826.8 2570.5L825.5 2563.4L823.6 2559L819.4 2553.1L813.1 2550.6L809.4 2545.7L803.5 2547.2L799.5 2547.1L795.6 2543.8L791.7 2543.8L787.7 2546.9L783.8 2546.8L779.9 2543.6L775.9 2543.5L770 2545L766.4 2540.8L765.1 2537.6L766.6 2533.1L765.2 2529.9L760.9 2527.9L759.5 2524.7L761.1 2520.2L759.7 2517L755.3 2515L753.9 2511.8L755.5 2507.3L754.1 2504.1L749.8 2502.1L748.4 2498.9L749.9 2494.4L748.6 2491.2L745 2487L752.2 2483.9L757.3 2482.9L765.2 2483L766.8 2477.6L766.8 2474L765.2 2468.6L763.8 2462.9L764 2459.2L765.9 2453.7L759.7 2453.7L758.4 2443.7L760.5 2438.3L760.8 2434.5L759.7 2428.8L763.4 2426.3L765.9 2431.6L766.5 2435.4L765.9 2441.2L772.1 2451.2L782.1 2453.7L787 2451.2L797 2456.2L802.3 2458.7L806 2459.3L811.9 2458.6L818 2455.2L822.3 2454L829.3 2453.7L834.3 2447.5L846.7 2443.7L853.2 2441.3L856.9 2438.8L861.6 2433.8L865.5 2429.6L868.6 2427.7L874.1 2426.3L879 2416.4L880.6 2409.8L880.6 2405.5L879 2399L884 2389L891.5 2381.6L901.4 2379.1L902.4 2372.3L904.1 2368.1L908.7 2365.2L910.4 2361L911.4 2354.2L911 2348.3L911.9 2344.5L915.8 2341.5L916.7 2337.8L916.3 2331.8L923.8 2321.9L931.3 2311.9L938.7 2302L936.2 2296.6L935.6 2292.9L936.2 2287.1L937.8 2281.5L937.8 2277.7Z M1182.9 1759.2L1190 1756.8L1196.1 1758.3L1200.1 1758.1L1204 1754.8L1208.1 1754.7L1212.2 1757.8L1216.2 1757.7L1220.1 1754.4L1224.2 1754.2L1230.3 1755.7L1235 1758.5L1238.4 1759.4L1242.6 1757.2L1246 1758.1L1248.6 1762.1L1252 1763L1257.5 1762.8L1259.3 1769.9L1248 1772.2L1235 1769.9L1233.8 1778.2L1224.3 1780.5L1218.4 1787.6L1213.7 1788.2L1206.6 1782.9L1200.7 1775.8L1194.7 1771L1182.9 1772.2Z M1099.5 2521.4L1104.4 2510.3L1114.4 2506.5L1116.9 2511.5L1109.4 2521.4L1104.4 2523.9Z M1057.2 2548.8L1063.2 2549L1066.9 2548L1072.1 2545.1L1076.8 2542.1L1080.2 2541.2L1085.8 2541.3L1092 2546.3L1085.8 2557.5L1082.1 2567.5L1074.6 2572.4L1062.2 2569.9L1056 2563.7L1058 2558.3L1058.3 2554.5Z M990.1 2578.6L992.6 2573.3L993.2 2569.6L992.5 2563.7L998.8 2557.5L1009.9 2556.3L1012.3 2561.6L1012.8 2565.4L1011.9 2571.2L1017.5 2573.7L1021.3 2574.3L1027.4 2573.7L1037.3 2576.2L1037.3 2583.6L1031.8 2585.5L1028.1 2585.7L1024.2 2582.7L1020.4 2582.9L1014.9 2584.9L1008.5 2586.9L1004.2 2587.2L997.5 2586.1Z M1375.6 2434.3L1380.8 2435.9L1384.3 2435.9L1389.6 2434.3L1389.6 2438.2L1384.3 2439.8L1380.8 2439.8L1375.6 2438.2Z"/></clipPath>
<g clip-path="url(#mb)">
<path d="M968.3 2058.1L970.8 2044.5L972 2030.8L979.5 2027.1L984.4 2007.2L994.4 2004.7L1014.3 1998.5L1015.5 1991L1029.2 1984.8L1054.1 1984.8L1080.2 1982.3L1092.6 1982.3L1093.9 1994.7L1116.2 1994.7L1116.2 2003.4L1136.1 2008.4L1156 2012.1L1173.4 2004.7L1193.3 2004.7L1187.5 2005.9L1207.4 2010.9L1209.8 2024.6L1226 2025.8L1227.2 2039.5L1232.2 2054.4L1245.9 2060.6L1247.1 2074.3L1254.6 2089.2L1264.5 2094.2L1274.5 2104.1L1286.9 2109.1L1296.9 2114.1L1304.3 2110.4L1311.8 2115.3L1319.3 2110.4L1329.2 2119.1L1339.1 2115.3L1349.1 2121.6L1359 2117.8L1371.5 2131.5L1371.5 2151.4L1369 2163.8L1364 2178.7L1362.8 2193.7L1354.1 2203.6L1349.1 2213.6L1339.1 2218.5L1326.7 2226L1324.2 2243.4L1331.7 2250.9L1331.7 2265.8L1323 2273.2L1324.2 2290.6L1341.6 2298.1L1354.1 2296.9L1378.9 2298.1L1383.9 2310.5L1378.9 2325.5L1369 2324.2L1366.5 2318L1349.1 2315.5L1341.6 2310.5L1329.2 2303.1L1304.3 2303.1L1294.4 2308.1L1289.4 2332.9L1284.4 2342.9L1284.4 2352.8L1267 2357.8L1264.5 2365L1258.6 2368.5L1251.2 2374.7L1243.7 2382.2L1233.7 2389.7L1223.8 2392.1L1218.8 2397.1L1221.3 2404.6L1213.9 2414.5L1216.3 2424.5L1226.3 2431.9L1233.7 2441.9L1238.7 2454.3L1251.2 2459.3L1258.6 2471.7L1263.6 2484.1L1271 2494.1L1281 2496.6L1286 2486.6L1298.4 2484.1L1300.9 2474.2L1310.8 2468L1330.7 2469.2L1333.2 2476.7L1323.3 2486.6L1320.8 2499.1L1312.1 2504L1310.8 2519L1300.9 2523.9L1286 2519L1283.5 2526.4L1286 2536.4L1288.5 2548.8L1281 2561.2L1276 2571.2L1268.6 2578.6L1266.1 2588.6L1261.1 2601L1253.6 2611L1246.2 2623.4L1241.2 2635.8L1243.7 2645.8L1246.2 2660.7L1241.2 2673.1L1236.2 2680.6L1228.8 2683.1L1223.8 2693L1218.8 2703L1221.3 2712.9L1208.9 2707.9L1198.9 2698L1189 2712.9L1179 2717.9L1174.1 2732.8L1174.1 2747.7L1100 2770L950 2730L850 2650L790 2570L862.2 2607.7L870 2601.9L883.7 2594.1L895.4 2588.2L907.1 2582.3L914.9 2580.4L924.7 2574.5L934.5 2566.7L940.3 2563.8L948.1 2568.7L954 2574.5L969.6 2577.5L987.2 2572.6L989.2 2564.8L1002.8 2560.8L1006.7 2568.7L1012.6 2572.6L1022.4 2570.6L1030 2566.7L1024.9 2568.7L1044.8 2567.5L1052.2 2561.2L1072.1 2556.3L1074.6 2541.3L1084.5 2538.9L1089.5 2523.9L1099.5 2521.4L1104.4 2509L1116.9 2504L1124.3 2486.6L1131.8 2484.1L1139.3 2474.2L1149.2 2466.7L1154.2 2451.8L1159.1 2444.4L1171.6 2436.9L1174.1 2429.4L1169.1 2419.5L1171.6 2399.6L1174.1 2382.2L1171.6 2374.7L1161.6 2364.8L1159.1 2349.9L1154.2 2337.4L1149.2 2325L1151 2335.4L1138.6 2325.5L1128.7 2315.5L1101.3 2315.5L1103.8 2310.5L1106.3 2290.6L1098.8 2283.2L1096.3 2270.8L1086.4 2258.3L1076.4 2243.4L1066.5 2233.5L1054.1 2226L1039.1 2211.1L1029.2 2206.1L1034.2 2193.7L1026.7 2183.7L1029.2 2168.8L1031.7 2156.4L1026.7 2143.9L1019.3 2131.5L1011.8 2121.6L996.9 2119.1L993.1 2104.1L991.9 2089.2L979.5 2074.3Z" fill="#00ffd2"/>
<path d="M972 2066.3L978.2 2061.9L986.9 2047L999.4 2032L1014.3 2019.6L1029.2 2012.1L1044.1 2008.4L1054.1 2007.7L1069 2010.9L1088.9 2017.1L1113.7 2019.6L1136.1 2022.1L1183.7 2007.2L1194.9 2017.1L1209.8 2025.8L1221 2035.8L1238.4 2058.1L1240.9 2074.3L1239.7 2099.2L1242.2 2131.5L1245.2 2156.4L1245.9 2181.2L1242.2 2203.6L1236 2226L1228.5 2245.9L1217.3 2260.8L1203.6 2272L1192.4 2275.2L1180 2273.7L1173.4 2272L1153.5 2267L1138.6 2265.8L1126.2 2269.5L1116.2 2278.2L1110 2289.4L1106.3 2290.6L850 2295L850 2065Z" fill="#00ffff"/>
<path d="M700 2525L1400 2525L1400 2825L700 2825Z" fill="#50ff00"/>
<path d="M1220.1 2402.1L1218.8 2389.7L1213.9 2381L1206.4 2382.2L1196.4 2390.9L1189 2402.1L1185.3 2419.5L1179 2434.4L1171.6 2446.8L1164.1 2448.1L1139.3 2454.3L1074.6 2523.9L1000 2543.8L973.5 2563.1L898.9 2573L859.1 2600.4L874.1 2602.9L889 2594.2L908.9 2585.5L923.8 2581.7L938.7 2579.2L953.6 2581.7L973.5 2585.5L993.4 2587.9L1010.8 2590.4L1023.3 2592.9L1022.4 2593.6L1037.3 2603.5L1109.4 2654.5L1116.9 2645.8L1129.3 2644.5L1149.2 2647L1169.1 2643.3L1184 2637.1L1194 2634.6L1206.4 2639.6L1213.9 2639.6L1221.3 2630.9L1231.3 2624.6L1241.2 2622.2L1244.9 2628.4L1246.2 2638.3L1273.5 2638.3L1348.1 2638.3L1348.1 2402.1Z" fill="#00ff5a"/>
<path d="M1131.8 2690.5L1130.6 2680.6L1135.5 2673.1L1144.2 2670.6L1154.2 2673.1L1161.6 2683.1L1162.9 2693L1156.7 2698L1154.2 2690.5L1146.7 2688.1L1134.3 2691.8Z" fill="#ffff00"/>
<path d="M1318 2270.8L1326.7 2270.8L1326.7 2293.1L1341.6 2294.4L1354.1 2293.1L1378.9 2296.9L1383.9 2310.5L1383.9 2320.5L1369 2324.2L1366.5 2318L1349.1 2315.5L1341.6 2310.5L1329.2 2303.1L1321.7 2300.6L1315.5 2285.7Z" fill="#00ff5a"/>
<path d="M1286.9 2323L1289.4 2332.9L1284.4 2342.9L1285.7 2352.8L1291.9 2352.8L1286.9 2357.8L1275.7 2359L1272 2347.8L1277 2332.9L1282 2325.5Z" fill="#00ff5a"/>
<path d="M1099.5 2521.4L1104.4 2510.3L1114.4 2506.5L1116.9 2511.5L1109.4 2521.4L1104.4 2523.9Z" fill="#7dfff2"/>
<path d="M1057.2 2548.8L1072.1 2545.1L1085.8 2541.3L1092 2546.3L1085.8 2557.5L1082.1 2567.5L1074.6 2572.4L1062.2 2569.9L1056 2563.7Z" fill="#4dfff0"/>
<path d="M990.1 2578.6L992.5 2563.7L998.8 2557.5L1009.9 2556.3L1011.9 2571.2L1027.4 2573.7L1037.3 2576.2L1037.3 2583.6L1014.9 2584.9L997.5 2586.1Z" fill="#00ff5a"/>
<path d="M992.5 2563.7L998.8 2557.5L1009.9 2556.3L1011.9 2571.2L1007.5 2584.9L997.5 2586.1L990.1 2578.6Z" fill="#9dfff6"/>
<path d="M936.2 2272.1L946.2 2277.1L949.9 2289.5L958.6 2293.3L973.5 2297L995.9 2299.5L998.4 2309.4L990.9 2316.9L986 2324.4L988.5 2339.3L993.4 2349.2L990.9 2364.1L983.5 2374.1L978.5 2379.1L968.6 2384L966.1 2391.5L958.6 2394L948.7 2399L938.7 2403.9L936.2 2416.4L923.8 2413.9L911.4 2418.9L908.9 2423.8L898.9 2428.8L894 2436.3L886.5 2443.7L881.5 2451.2L871.6 2456.2L864.1 2463.6L869.1 2476L859.1 2481L854.2 2491L849.2 2503.4L841.7 2513.3L839.3 2525.8L834.3 2538.2L831.8 2553.1L826.8 2563.1L826.8 2570.5L819.4 2553.1L813.1 2550.6L809.4 2545.7L770 2545L745 2487L765.2 2483L765.2 2468.6L765.9 2453.7L759.7 2453.7L758.4 2443.7L759.7 2428.8L763.4 2426.3L765.9 2441.2L772.1 2451.2L782.1 2453.7L787 2451.2L797 2456.2L811.9 2458.6L829.3 2453.7L834.3 2447.5L846.7 2443.7L861.6 2433.8L874.1 2426.3L879 2416.4L879 2399L884 2389L891.5 2381.6L901.4 2379.1L911.4 2354.2L916.3 2331.8L923.8 2321.9L931.3 2311.9L938.7 2302L936.2 2287.1Z" fill="#00ffff"/>
<path d="M949.9 2290.8L953.6 2302L963.6 2307L978.5 2310.7L997.2 2312.4L998.4 2299.5L973.5 2295.8L958.6 2292.5Z" fill="#4adcff"/>
<path d="M986 2319.4L968.6 2320.6L951.2 2324.4L938.7 2331.8L928.8 2344.3L918.8 2359.2L911.4 2369.1L907.6 2371.6L874.1 2399L859.1 2428.8L824.3 2451.2L824.3 2478.5L1010.8 2478.5L1010.8 2318.1Z" fill="#00ffd2"/>
<path d="M978.5 2331.8L971 2339.3L968.6 2345.5L956.1 2354.2L943.7 2364.1L931.3 2370.4L918.8 2376.6L906.4 2381.6L896.4 2384L874.1 2403.9L849.2 2441.2L811.9 2456.2L759.7 2451.2L759.7 2483.5L1010.8 2483.5L1010.8 2331.8Z" fill="#00ff5a"/>
<path d="M879 2396.5L891.5 2382.8L890.2 2394L891.5 2400.2L884 2406.4L875.3 2409.4Z" fill="#50ff00"/>
<path d="M787 2452.4L782.1 2463.6L772.1 2476L767.1 2481L762.2 2486L799.5 2578L874.1 2578L889 2453.7L881.5 2446.2L874.1 2449.9L864.1 2456.2L854.2 2461.1L844.2 2459.9L829.3 2457.4L816.9 2458.6L799.5 2456.7Z" fill="#50ff00"/>
<path d="M844.2 2445L859.1 2443.7L857.9 2451.2L851.7 2453.2L845.5 2451.2Z" fill="#00ffd2"/>
<path d="M886.5 2423.8L898.9 2422.6L900.2 2431.3L889 2432.5Z" fill="#00ffd2"/>
<path d="M1375.6 2434.3L1389.6 2434.3L1389.6 2438.2L1375.6 2438.2Z" fill="#00ff5a"/>
<path d="M1182.9 1759.2L1190 1756.8L1230.3 1755.7L1257.5 1762.8L1259.3 1769.9L1248 1772.2L1235 1769.9L1233.8 1778.2L1224.3 1780.5L1218.4 1787.6L1213.7 1788.2L1206.6 1782.9L1200.7 1775.8L1194.7 1771L1182.9 1772.2Z" fill="#00ffff"/>
</g>
<path d="M1008.6 2600.6L1021.3 2593.7L1040.8 2587.9L1060.4 2588.8L1072.1 2600.6L1072.1 2596.7L1089.7 2597.6L1095.6 2602.5L1105.3 2608.4L1111.2 2618.2L1113.1 2629.9L1117 2643.6L1107.3 2653.3L1095.6 2657.2L1079.9 2659.2L1062.3 2661.1L1062.3 2667L1050.6 2667L1048.7 2659.2L1038.9 2657.2L1036.9 2650.4L1021.3 2649.4L1013.5 2641.6L1011.5 2627.9L1005.7 2618.2L1005.7 2608.4Z M1124.9 2694.3L1134.6 2689.5L1152.2 2688.5L1154.2 2700.2L1158.1 2706.1L1152.2 2713.9L1146.3 2717.8L1134.6 2717.8L1126.8 2711.9L1124.9 2702.2Z M1143.4 2547.8L1150.3 2545.9L1154.2 2553.7L1151.2 2561.5L1146.3 2557.6Z M1132.4 2004.2L1134.4 2024.1L1148.6 2026.1L1155 2017.1L1163.5 2008.4L1158.5 2002.7Z M1188.3 2244.6L1194.6 2238.4L1202 2233.5L1205.8 2235.9L1203.3 2242.2L1195.8 2247.1L1192.1 2249.6Z M809.4 2544.4L816.9 2545.7L821.8 2555.6L815.6 2558.1Z M1190 1756.2L1194.7 1765.1L1216 1768.4L1231.4 1757.8L1230.3 1755.1Z" fill="#fff"/>
<circle cx="1194" cy="2247.4" r="240.9" class="gd"/>
<line x1="1194" y1="1756.4" x2="1194" y2="2247.4" class="gd gm"/>
<line x1="1439.5" y1="1822.2" x2="1314.5" y2="2038.8" class="gd gm"/>
<line x1="1619.2" y1="2001.9" x2="1402.6" y2="2127" class="gd gm"/>
<line x1="1685" y1="2247.4" x2="1194" y2="2247.4" class="gd gm"/>
<line x1="1619.2" y1="2492.9" x2="1402.6" y2="2367.8" class="gd gm"/>
<line x1="1439.5" y1="2672.6" x2="1314.5" y2="2456" class="gd gm"/>
<line x1="1194" y1="2738.4" x2="1194" y2="2247.4" class="gd gm" style="stroke-width:2.8"/>
<line x1="948.5" y1="2672.6" x2="1073.5" y2="2456" class="gd gm"/>
<line x1="768.8" y1="2492.9" x2="985.4" y2="2367.9" class="gd gm"/>
<line x1="703" y1="2247.4" x2="1194" y2="2247.4" class="gd gm"/>
<line x1="768.8" y1="2001.9" x2="985.4" y2="2127" class="gd gm"/>
<line x1="948.5" y1="1822.2" x2="1073.5" y2="2038.8" class="gd gm"/>
<path d="M972 2066.3L978.2 2061.9L986.9 2047L999.4 2032L1014.3 2019.6L1029.2 2012.1L1044.1 2008.4L1054.1 2007.7L1069 2010.9L1088.9 2017.1L1113.7 2019.6L1136.1 2022.1 M1183.7 2007.2L1194.9 2017.1L1209.8 2025.8L1221 2035.8 M1238.4 2058.1L1240.9 2074.3L1239.7 2099.2L1242.2 2131.5L1245.2 2156.4L1245.9 2181.2L1242.2 2203.6L1236 2226L1228.5 2245.9L1217.3 2260.8L1203.6 2272L1192.4 2275.2L1180 2273.7L1173.4 2272L1153.5 2267L1138.6 2265.8L1126.2 2269.5L1116.2 2278.2L1110 2289.4L1106.3 2290.6 M1220.1 2402.1L1218.8 2389.7L1213.9 2381L1206.4 2382.2L1196.4 2390.9L1189 2402.1L1185.3 2419.5L1179 2434.4L1171.6 2446.8L1164.1 2448.1 M1116.9 2645.8L1129.3 2644.5L1149.2 2647L1169.1 2643.3L1184 2637.1L1194 2634.6L1206.4 2639.6L1213.9 2639.6L1221.3 2630.9L1231.3 2624.6L1241.2 2622.2L1244.9 2628.4L1246.2 2638.3 M874.1 2602.9L889 2594.2L908.9 2585.5L923.8 2581.7L938.7 2579.2L953.6 2581.7L973.5 2585.5L993.4 2587.9L1010.8 2590.4L1023.3 2592.9 M1326.7 2268.3L1318 2272L1315.5 2285.7L1319.3 2295.6L1324.2 2300.6 M1286.9 2323L1279.5 2329.2L1274.5 2342.9L1272 2352.8L1275.7 2359.8 M986 2319.4L968.6 2320.6L951.2 2324.4L938.7 2331.8L928.8 2344.3L918.8 2359.2L911.4 2369.1L907.6 2371.6 M978.5 2331.8L971 2339.3L968.6 2345.5L956.1 2354.2L943.7 2364.1L931.3 2370.4L918.8 2376.6L906.4 2381.6L896.4 2384 M891.5 2382.8L889 2391.5L891.5 2399L884 2405.2L874.1 2408.9 M816.9 2458.6L829.3 2457.4L844.2 2459.9L854.2 2461.1L864.1 2456.2L874.1 2449.9L881.5 2446.2 M787 2452.4L782.1 2463.6L772.1 2476L767.1 2481 M765.9 2453.7L763.4 2466.1 M1056 2563.7L1062.2 2569.9L1074.6 2572.4L1082.1 2567.5L1085.8 2557.5L1092 2546.3L1095.7 2523.9L1104.4 2523.9L1113.1 2514L1121.8 2504L1129.3 2486.6 M949.9 2292L953.6 2302L963.6 2307L978.5 2310.7L995.9 2311.9 M1188.2 1760.7L1194.7 1770.1L1216 1773.1L1231.4 1763 M1131.8 2690.5L1130.6 2680.6L1135.5 2673.1L1144.2 2670.6L1154.2 2673.1L1161.6 2683.1L1162.9 2693L1156.7 2698 M1145.5 2552.5L1151.7 2548.3 M1267 2097.9L1273.3 2102.9L1280.7 2106.1" class="cn"/>
<use href="#coast" transform="translate(0,1125)"/>
</g>
<circle cx="1194" cy="2247" r="491.3" class="bd"/>
<text transform="translate(1194,1746.2) scale(0.977,1)" class="lb" text-anchor="middle">180</text>
<text transform="translate(1194,2769) scale(0.977,1)" class="lb" text-anchor="middle">0</text>
<text transform="translate(937.6,1815.1) scale(0.977,1)" class="lb" text-anchor="end">150W</text>
<text transform="translate(750.6,2001.8) scale(0.977,1)" class="lb" text-anchor="end">120W</text>
<text transform="translate(683.2,2257.2) scale(0.977,1)" class="lb" text-anchor="end">90W</text>
<text transform="translate(750.6,2513.2) scale(0.977,1)" class="lb" text-anchor="end">60W</text>
<text transform="translate(936.6,2700.3) scale(0.977,1)" class="lb" text-anchor="end">30W</text>
<text transform="translate(1449.2,1815.1) scale(0.977,1)" class="lb" text-anchor="start">150E</text>
<text transform="translate(1636.2,2001.8) scale(0.977,1)" class="lb" text-anchor="start">120E</text>
<text transform="translate(1704.8,2257.2) scale(0.977,1)" class="lb" text-anchor="start">90E</text>
<text transform="translate(1636.2,2513.2) scale(0.977,1)" class="lb" text-anchor="start">60E</text>
<text transform="translate(1449.2,2700.3) scale(0.977,1)" class="lb" text-anchor="start">30E</text>
<rect x="1773" y="1788.5" width="58" height="46.2" fill="#c80000"/>
<rect x="1773" y="1834.4" width="58" height="46.2" fill="#e60000"/>
<rect x="1773" y="1880.3" width="58" height="46.2" fill="#ff1e00"/>
<rect x="1773" y="1926.2" width="58" height="46.2" fill="#f88c00"/>
<rect x="1773" y="1972" width="58" height="46.2" fill="#ffa023"/>
<rect x="1773" y="2017.9" width="58" height="46.2" fill="#ffb437"/>
<rect x="1773" y="2063.8" width="58" height="46.2" fill="#ffd72d"/>
<rect x="1773" y="2109.7" width="58" height="46.2" fill="#ffff00"/>
<rect x="1773" y="2155.6" width="58" height="46.2" fill="#50ff00"/>
<rect x="1773" y="2201.5" width="58" height="46.2" fill="#00ff5a"/>
<rect x="1773" y="2247.3" width="58" height="46.2" fill="#00ffd2"/>
<rect x="1773" y="2293.2" width="58" height="46.2" fill="#00ffff"/>
<rect x="1773" y="2339.1" width="58" height="46.2" fill="#1ee6ff"/>
<rect x="1773" y="2385" width="58" height="46.2" fill="#00bfff"/>
<rect x="1773" y="2430.9" width="58" height="46.2" fill="#007dff"/>
<rect x="1773" y="2476.8" width="58" height="46.2" fill="#0000ff"/>
<rect x="1773" y="2522.7" width="58" height="46.2" fill="#9600dc"/>
<rect x="1773" y="2568.5" width="58" height="46.2" fill="#e600e6"/>
<rect x="1773" y="2614.4" width="58" height="46.2" fill="#d3d3d3"/>
<rect x="1773" y="2660.3" width="58" height="46.2" fill="#767676"/>
<line x1="1773" y1="1834.4" x2="1831" y2="1834.4" class="cb"/>
<line x1="1773" y1="1880.3" x2="1831" y2="1880.3" class="cb"/>
<line x1="1773" y1="1926.2" x2="1831" y2="1926.2" class="cb"/>
<line x1="1773" y1="1972" x2="1831" y2="1972" class="cb"/>
<line x1="1773" y1="2017.9" x2="1831" y2="2017.9" class="cb"/>
<line x1="1773" y1="2063.8" x2="1831" y2="2063.8" class="cb"/>
<line x1="1773" y1="2109.7" x2="1831" y2="2109.7" class="cb"/>
<line x1="1773" y1="2155.6" x2="1831" y2="2155.6" class="cb"/>
<line x1="1773" y1="2201.5" x2="1831" y2="2201.5" class="cb"/>
<line x1="1773" y1="2247.3" x2="1831" y2="2247.3" class="cb"/>
<line x1="1773" y1="2293.2" x2="1831" y2="2293.2" class="cb"/>
<line x1="1773" y1="2339.1" x2="1831" y2="2339.1" class="cb"/>
<line x1="1773" y1="2385" x2="1831" y2="2385" class="cb"/>
<line x1="1773" y1="2430.9" x2="1831" y2="2430.9" class="cb"/>
<line x1="1773" y1="2476.8" x2="1831" y2="2476.8" class="cb"/>
<line x1="1773" y1="2522.7" x2="1831" y2="2522.7" class="cb"/>
<line x1="1773" y1="2568.5" x2="1831" y2="2568.5" class="cb"/>
<line x1="1773" y1="2614.4" x2="1831" y2="2614.4" class="cb"/>
<line x1="1773" y1="2660.3" x2="1831" y2="2660.3" class="cb"/>
<rect x="1773" y="1788.5" width="58" height="917.7" fill="none" class="cb"/>
<text transform="translate(1871,1798.3) scale(0.977,1)" class="lb" text-anchor="middle">3</text>
<text transform="translate(1871,1844.2) scale(0.977,1)" class="lb" text-anchor="middle">2.7</text>
<text transform="translate(1871,1890.1) scale(0.977,1)" class="lb" text-anchor="middle">2.4</text>
<text transform="translate(1871,1936) scale(0.977,1)" class="lb" text-anchor="middle">2.1</text>
<text transform="translate(1871,1981.9) scale(0.977,1)" class="lb" text-anchor="middle">1.8</text>
<text transform="translate(1871,2027.8) scale(0.977,1)" class="lb" text-anchor="middle">1.5</text>
<text transform="translate(1871,2073.7) scale(0.977,1)" class="lb" text-anchor="middle">1.2</text>
<text transform="translate(1871,2119.5) scale(0.977,1)" class="lb" text-anchor="middle">0.9</text>
<text transform="translate(1871,2165.4) scale(0.977,1)" class="lb" text-anchor="middle">0.6</text>
<text transform="translate(1871,2211.3) scale(0.977,1)" class="lb" text-anchor="middle">0.3</text>
<text transform="translate(1871,2257.2) scale(0.977,1)" class="lb" text-anchor="middle">0</text>
<text transform="translate(1871,2303.1) scale(0.977,1)" class="lb" text-anchor="middle">-0.3</text>
<text transform="translate(1871,2349) scale(0.977,1)" class="lb" text-anchor="middle">-0.6</text>
<text transform="translate(1871,2394.9) scale(0.977,1)" class="lb" text-anchor="middle">-0.9</text>
<text transform="translate(1871,2440.7) scale(0.977,1)" class="lb" text-anchor="middle">-1.2</text>
<text transform="translate(1871,2486.6) scale(0.977,1)" class="lb" text-anchor="middle">-1.5</text>
<text transform="translate(1871,2532.5) scale(0.977,1)" class="lb" text-anchor="middle">-1.8</text>
<text transform="translate(1871,2578.4) scale(0.977,1)" class="lb" text-anchor="middle">-2.1</text>
<text transform="translate(1871,2624.3) scale(0.977,1)" class="lb" text-anchor="middle">-2.4</text>
<text transform="translate(1871,2670.2) scale(0.977,1)" class="lb" text-anchor="middle">-2.7</text>
<text transform="translate(1871,2716) scale(0.977,1)" class="lb" text-anchor="middle">-3</text>
</svg></body></html>
